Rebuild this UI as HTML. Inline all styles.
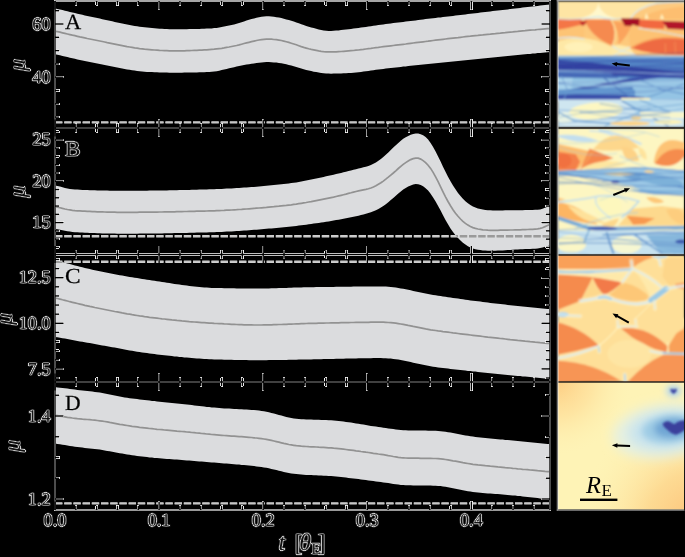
<!DOCTYPE html>
<html><head><meta charset="utf-8"><title>fig</title>
<style>
html,body{margin:0;padding:0;background:#000;}
body{width:685px;height:557px;overflow:hidden;font-family:"Liberation Serif",serif;}
svg{display:block;}
svg text{font-family:"Liberation Serif",serif;}
</style></head>
<body>
<svg width="685" height="557" viewBox="0 0 685 557">
<defs>
<filter id="fr" x="0" y="0" width="685" height="557" filterUnits="userSpaceOnUse" color-interpolation-filters="sRGB">
<feColorMatrix type="matrix" values="0 0 0 1 0  0 0 0 1 0  0 0 0 1 0  0 0 0 1 0"/>
<feComponentTransfer>
<feFuncR type="linear" slope="-1.0" intercept="1.0"/>
<feFuncG type="linear" slope="-1.0" intercept="1.0"/>
<feFuncB type="linear" slope="-1.0" intercept="1.0"/>
<feFuncA type="linear" slope="255" intercept="0"/>
</feComponentTransfer>
</filter>
<filter id="frt" x="0" y="0" width="685" height="557" filterUnits="userSpaceOnUse" color-interpolation-filters="sRGB">
<feConvolveMatrix in="SourceGraphic" order="3" kernelMatrix="0.01 0.045 0.01 0.045 0.78 0.045 0.01 0.045 0.01" divisor="1" edgeMode="none" preserveAlpha="false"/>
<feColorMatrix type="matrix" values="0 0 0 1 0  0 0 0 1 0  0 0 0 1 0  0 0 0 1 0"/>
<feComponentTransfer>
<feFuncR type="linear" slope="-1.0" intercept="1.0"/>
<feFuncG type="linear" slope="-1.0" intercept="1.0"/>
<feFuncB type="linear" slope="-1.0" intercept="1.0"/>
<feFuncA type="linear" slope="8" intercept="0"/>
</feComponentTransfer>
</filter>
<filter id="idf" x="0" y="0" width="685" height="557" filterUnits="userSpaceOnUse"><feOffset dx="0" dy="0"/></filter>
<clipPath id="bandclip"><path d="M55.0 8.5 L57.5 8.9 L60.0 9.5 L62.5 10.1 L64.9 10.7 L67.4 11.3 L69.9 11.9 L72.4 12.5 L74.9 13.1 L77.4 13.7 L79.9 14.3 L82.4 14.8 L84.8 15.4 L87.3 16.0 L89.8 16.5 L92.3 17.0 L94.8 17.6 L97.3 18.1 L99.8 18.6 L102.3 19.2 L104.7 19.7 L107.2 20.2 L109.7 20.8 L112.2 21.3 L114.7 21.9 L117.2 22.4 L119.7 23.0 L122.2 23.5 L124.6 24.0 L127.1 24.5 L129.6 25.0 L132.1 25.5 L134.6 25.9 L137.1 26.3 L139.6 26.7 L142.1 27.0 L144.5 27.3 L147.0 27.6 L149.5 27.8 L152.0 28.1 L154.5 28.3 L157.0 28.5 L159.5 28.7 L162.0 28.8 L164.4 29.0 L166.9 29.1 L169.4 29.2 L171.9 29.3 L174.4 29.3 L176.9 29.3 L179.4 29.3 L181.9 29.3 L184.3 29.2 L186.8 29.2 L189.3 29.1 L191.8 29.1 L194.3 29.0 L196.8 29.0 L199.3 28.9 L201.8 28.8 L204.2 28.7 L206.7 28.6 L209.2 28.5 L211.7 28.4 L214.2 28.1 L216.7 27.9 L219.2 27.5 L221.7 27.1 L224.1 26.6 L226.6 26.1 L229.1 25.6 L231.6 25.0 L234.1 24.4 L236.6 23.8 L239.1 23.0 L241.6 22.2 L244.0 21.4 L246.5 20.6 L249.0 19.8 L251.5 19.1 L254.0 18.5 L256.5 17.8 L259.0 17.2 L261.5 16.7 L263.9 16.4 L266.4 16.2 L268.9 16.3 L271.4 16.5 L273.9 16.8 L276.4 17.2 L278.9 17.6 L281.4 18.1 L283.8 18.7 L286.3 19.4 L288.8 20.1 L291.3 20.8 L293.8 21.6 L296.3 22.5 L298.8 23.3 L301.3 24.2 L303.7 25.1 L306.2 25.9 L308.7 26.7 L311.2 27.4 L313.7 28.1 L316.2 28.8 L318.7 29.4 L321.2 30.0 L323.6 30.4 L326.1 30.7 L328.6 30.9 L331.1 30.9 L333.6 30.8 L336.1 30.6 L338.6 30.4 L341.1 30.1 L343.5 29.8 L346.0 29.5 L348.5 29.2 L351.0 28.9 L353.5 28.6 L356.0 28.3 L358.5 27.9 L361.0 27.6 L363.4 27.2 L365.9 26.9 L368.4 26.5 L370.9 26.2 L373.4 25.8 L375.9 25.4 L378.4 25.1 L380.9 24.8 L383.3 24.4 L385.8 24.1 L388.3 23.8 L390.8 23.5 L393.3 23.1 L395.8 22.8 L398.3 22.5 L400.8 22.2 L403.2 21.9 L405.7 21.6 L408.2 21.3 L410.7 21.0 L413.2 20.7 L415.7 20.4 L418.2 20.0 L420.7 19.7 L423.1 19.4 L425.6 19.1 L428.1 18.8 L430.6 18.5 L433.1 18.2 L435.6 17.9 L438.1 17.6 L440.6 17.4 L443.0 17.1 L445.5 16.8 L448.0 16.5 L450.5 16.2 L453.0 15.9 L455.5 15.6 L458.0 15.3 L460.5 15.0 L462.9 14.7 L465.4 14.4 L467.9 14.1 L470.4 13.8 L472.9 13.5 L475.4 13.2 L477.9 12.9 L480.4 12.6 L482.8 12.3 L485.3 12.0 L487.8 11.7 L490.3 11.4 L492.8 11.1 L495.3 10.8 L497.8 10.5 L500.3 10.2 L502.7 9.9 L505.2 9.7 L507.7 9.4 L510.2 9.1 L512.7 8.8 L515.2 8.5 L517.7 8.2 L520.2 7.9 L522.6 7.6 L525.1 7.3 L527.6 7.0 L530.1 6.7 L532.6 6.5 L535.1 6.2 L537.6 5.9 L540.1 5.6 L542.5 5.3 L545.0 5.0 L547.5 4.8 L550.0 4.6 L550.0 52.1 L547.5 52.2 L545.0 52.4 L542.5 52.7 L540.1 52.9 L537.6 53.1 L535.1 53.4 L532.6 53.6 L530.1 53.9 L527.6 54.1 L525.1 54.3 L522.6 54.6 L520.2 54.8 L517.7 55.1 L515.2 55.3 L512.7 55.6 L510.2 55.8 L507.7 56.0 L505.2 56.3 L502.7 56.5 L500.3 56.8 L497.8 57.0 L495.3 57.3 L492.8 57.5 L490.3 57.8 L487.8 58.0 L485.3 58.3 L482.8 58.5 L480.4 58.8 L477.9 59.0 L475.4 59.3 L472.9 59.5 L470.4 59.8 L467.9 60.0 L465.4 60.3 L462.9 60.5 L460.5 60.8 L458.0 61.0 L455.5 61.3 L453.0 61.5 L450.5 61.8 L448.0 62.0 L445.5 62.3 L443.0 62.5 L440.6 62.8 L438.1 63.0 L435.6 63.3 L433.1 63.5 L430.6 63.8 L428.1 64.0 L425.6 64.3 L423.1 64.5 L420.7 64.8 L418.2 65.1 L415.7 65.3 L413.2 65.6 L410.7 65.8 L408.2 66.1 L405.7 66.4 L403.2 66.6 L400.8 66.9 L398.3 67.2 L395.8 67.4 L393.3 67.7 L390.8 68.0 L388.3 68.3 L385.8 68.6 L383.3 68.9 L380.9 69.2 L378.4 69.5 L375.9 69.8 L373.4 70.2 L370.9 70.5 L368.4 70.9 L365.9 71.3 L363.4 71.6 L361.0 71.9 L358.5 72.2 L356.0 72.5 L353.5 72.7 L351.0 72.9 L348.5 73.1 L346.0 73.2 L343.5 73.3 L341.1 73.4 L338.6 73.5 L336.1 73.6 L333.6 73.6 L331.1 73.7 L328.6 73.6 L326.1 73.5 L323.6 73.3 L321.2 73.0 L318.7 72.6 L316.2 72.1 L313.7 71.7 L311.2 71.1 L308.7 70.6 L306.2 70.0 L303.7 69.3 L301.3 68.6 L298.8 67.8 L296.3 67.1 L293.8 66.3 L291.3 65.6 L288.8 65.0 L286.3 64.3 L283.8 63.8 L281.4 63.3 L278.9 62.9 L276.4 62.6 L273.9 62.4 L271.4 62.2 L268.9 62.1 L266.4 62.1 L263.9 62.2 L261.5 62.4 L259.0 62.7 L256.5 63.0 L254.0 63.4 L251.5 63.8 L249.0 64.2 L246.5 64.6 L244.0 65.1 L241.6 65.6 L239.1 66.1 L236.6 66.6 L234.1 67.2 L231.6 67.7 L229.1 68.3 L226.6 68.9 L224.1 69.6 L221.7 70.1 L219.2 70.7 L216.7 71.2 L214.2 71.5 L211.7 71.8 L209.2 72.0 L206.7 72.1 L204.2 72.2 L201.8 72.3 L199.3 72.3 L196.8 72.4 L194.3 72.5 L191.8 72.5 L189.3 72.6 L186.8 72.6 L184.3 72.6 L181.9 72.7 L179.4 72.7 L176.9 72.7 L174.4 72.7 L171.9 72.7 L169.4 72.7 L166.9 72.6 L164.4 72.6 L162.0 72.5 L159.5 72.4 L157.0 72.3 L154.5 72.2 L152.0 72.1 L149.5 72.0 L147.0 71.9 L144.5 71.7 L142.1 71.5 L139.6 71.2 L137.1 70.9 L134.6 70.6 L132.1 70.2 L129.6 69.8 L127.1 69.4 L124.6 68.9 L122.2 68.5 L119.7 68.0 L117.2 67.5 L114.7 67.0 L112.2 66.5 L109.7 66.0 L107.2 65.5 L104.7 65.0 L102.3 64.5 L99.8 64.0 L97.3 63.6 L94.8 63.1 L92.3 62.6 L89.8 62.1 L87.3 61.5 L84.8 61.0 L82.4 60.5 L79.9 59.9 L77.4 59.4 L74.9 58.8 L72.4 58.2 L69.9 57.7 L67.4 57.1 L64.9 56.5 L62.5 55.9 L60.0 55.2 L57.5 54.7 L55.0 54.3 Z"/>
<path d="M55.0 185.6 L57.5 186.0 L60.0 186.6 L62.5 187.3 L64.9 187.9 L67.4 188.4 L69.9 188.9 L72.4 189.2 L74.9 189.5 L77.4 189.6 L79.9 189.7 L82.4 189.9 L84.8 190.0 L87.3 190.1 L89.8 190.2 L92.3 190.3 L94.8 190.3 L97.3 190.4 L99.8 190.5 L102.3 190.5 L104.7 190.6 L107.2 190.6 L109.7 190.7 L112.2 190.7 L114.7 190.7 L117.2 190.8 L119.7 190.8 L122.2 190.8 L124.6 190.8 L127.1 190.8 L129.6 190.8 L132.1 190.8 L134.6 190.8 L137.1 190.8 L139.6 190.7 L142.1 190.7 L144.5 190.7 L147.0 190.7 L149.5 190.6 L152.0 190.6 L154.5 190.6 L157.0 190.5 L159.5 190.5 L162.0 190.4 L164.4 190.4 L166.9 190.4 L169.4 190.3 L171.9 190.3 L174.4 190.2 L176.9 190.2 L179.4 190.1 L181.9 190.0 L184.3 190.0 L186.8 189.9 L189.3 189.9 L191.8 189.8 L194.3 189.7 L196.8 189.7 L199.3 189.6 L201.8 189.5 L204.2 189.5 L206.7 189.4 L209.2 189.3 L211.7 189.2 L214.2 189.2 L216.7 189.1 L219.2 189.0 L221.7 188.9 L224.1 188.8 L226.6 188.6 L229.1 188.5 L231.6 188.4 L234.1 188.2 L236.6 188.1 L239.1 187.9 L241.6 187.8 L244.0 187.6 L246.5 187.4 L249.0 187.2 L251.5 187.0 L254.0 186.9 L256.5 186.7 L259.0 186.4 L261.5 186.2 L263.9 186.0 L266.4 185.8 L268.9 185.6 L271.4 185.3 L273.9 185.1 L276.4 184.8 L278.9 184.6 L281.4 184.3 L283.8 184.0 L286.3 183.8 L288.8 183.5 L291.3 183.1 L293.8 182.8 L296.3 182.4 L298.8 181.9 L301.3 181.5 L303.7 181.1 L306.2 180.6 L308.7 180.1 L311.2 179.6 L313.7 179.1 L316.2 178.5 L318.7 178.0 L321.2 177.4 L323.6 176.9 L326.1 176.3 L328.6 175.8 L331.1 175.2 L333.6 174.7 L336.1 174.1 L338.6 173.5 L341.1 173.0 L343.5 172.3 L346.0 171.7 L348.5 171.1 L351.0 170.4 L353.5 169.8 L356.0 169.2 L358.5 168.5 L361.0 167.9 L363.4 167.3 L365.9 166.7 L368.4 165.9 L370.9 165.0 L373.4 163.8 L375.9 162.4 L378.4 160.8 L380.9 159.0 L383.3 157.0 L385.8 154.8 L388.3 152.4 L390.8 150.0 L393.3 147.5 L395.8 145.2 L398.3 142.9 L400.8 140.7 L403.2 138.8 L405.7 137.2 L408.2 135.9 L410.7 134.8 L413.2 133.9 L415.7 133.5 L418.2 133.6 L420.7 134.2 L423.1 135.3 L425.6 137.0 L428.1 139.5 L430.6 142.9 L433.1 147.0 L435.6 151.6 L438.1 156.5 L440.6 161.6 L443.0 166.8 L445.5 171.8 L448.0 176.7 L450.5 181.3 L453.0 185.5 L455.5 189.3 L458.0 192.9 L460.5 196.0 L462.9 198.8 L465.4 201.2 L467.9 203.3 L470.4 205.1 L472.9 206.6 L475.4 207.6 L477.9 208.4 L480.4 209.1 L482.8 209.6 L485.3 210.0 L487.8 210.2 L490.3 210.3 L492.8 210.4 L495.3 210.4 L497.8 210.4 L500.3 210.4 L502.7 210.4 L505.2 210.3 L507.7 210.3 L510.2 210.3 L512.7 210.3 L515.2 210.3 L517.7 210.2 L520.2 210.2 L522.6 210.2 L525.1 210.1 L527.6 210.1 L530.1 210.0 L532.6 209.9 L535.1 209.8 L537.6 209.7 L540.1 209.4 L542.5 208.7 L545.0 207.8 L547.5 206.8 L550.0 205.9 L550.0 245.4 L547.5 246.0 L545.0 246.8 L542.5 247.6 L540.1 248.1 L537.6 248.5 L535.1 248.7 L532.6 248.8 L530.1 248.9 L527.6 249.0 L525.1 249.1 L522.6 249.2 L520.2 249.3 L517.7 249.4 L515.2 249.6 L512.7 249.7 L510.2 249.9 L507.7 250.1 L505.2 250.2 L502.7 250.4 L500.3 250.5 L497.8 250.6 L495.3 250.7 L492.8 250.7 L490.3 250.8 L487.8 250.7 L485.3 250.6 L482.8 250.4 L480.4 250.1 L477.9 249.7 L475.4 249.2 L472.9 248.5 L470.4 247.5 L467.9 246.2 L465.4 244.6 L462.9 242.7 L460.5 240.6 L458.0 238.1 L455.5 235.2 L453.0 232.0 L450.5 228.4 L448.0 224.3 L445.5 219.9 L443.0 215.2 L440.6 210.6 L438.1 206.0 L435.6 201.5 L433.1 197.4 L430.6 193.7 L428.1 190.6 L425.6 188.2 L423.1 186.3 L420.7 185.0 L418.2 184.2 L415.7 184.1 L413.2 184.5 L410.7 185.4 L408.2 186.6 L405.7 188.0 L403.2 189.6 L400.8 191.5 L398.3 193.6 L395.8 195.8 L393.3 198.0 L390.8 200.1 L388.3 202.2 L385.8 204.2 L383.3 206.1 L380.9 207.6 L378.4 209.0 L375.9 210.2 L373.4 211.3 L370.9 212.2 L368.4 213.1 L365.9 213.8 L363.4 214.5 L361.0 215.1 L358.5 215.7 L356.0 216.3 L353.5 216.8 L351.0 217.3 L348.5 217.8 L346.0 218.3 L343.5 218.8 L341.1 219.3 L338.6 219.7 L336.1 220.1 L333.6 220.6 L331.1 221.0 L328.6 221.4 L326.1 221.8 L323.6 222.2 L321.2 222.5 L318.7 222.9 L316.2 223.3 L313.7 223.6 L311.2 224.0 L308.7 224.3 L306.2 224.7 L303.7 225.0 L301.3 225.3 L298.8 225.6 L296.3 225.9 L293.8 226.2 L291.3 226.5 L288.8 226.8 L286.3 227.0 L283.8 227.2 L281.4 227.5 L278.9 227.7 L276.4 227.9 L273.9 228.2 L271.4 228.4 L268.9 228.6 L266.4 228.8 L263.9 229.0 L261.5 229.2 L259.0 229.4 L256.5 229.7 L254.0 229.8 L251.5 230.0 L249.0 230.2 L246.5 230.4 L244.0 230.6 L241.6 230.8 L239.1 230.9 L236.6 231.1 L234.1 231.2 L231.6 231.4 L229.1 231.5 L226.6 231.6 L224.1 231.8 L221.7 231.9 L219.2 232.0 L216.7 232.1 L214.2 232.2 L211.7 232.2 L209.2 232.3 L206.7 232.4 L204.2 232.5 L201.8 232.5 L199.3 232.6 L196.8 232.6 L194.3 232.7 L191.8 232.8 L189.3 232.8 L186.8 232.9 L184.3 232.9 L181.9 233.0 L179.4 233.0 L176.9 233.1 L174.4 233.1 L171.9 233.2 L169.4 233.2 L166.9 233.3 L164.4 233.3 L162.0 233.4 L159.5 233.4 L157.0 233.5 L154.5 233.5 L152.0 233.5 L149.5 233.5 L147.0 233.6 L144.5 233.6 L142.1 233.6 L139.6 233.6 L137.1 233.7 L134.6 233.7 L132.1 233.7 L129.6 233.7 L127.1 233.7 L124.6 233.7 L122.2 233.7 L119.7 233.7 L117.2 233.7 L114.7 233.6 L112.2 233.6 L109.7 233.6 L107.2 233.5 L104.7 233.4 L102.3 233.4 L99.8 233.3 L97.3 233.2 L94.8 233.1 L92.3 233.0 L89.8 232.9 L87.3 232.8 L84.8 232.7 L82.4 232.6 L79.9 232.5 L77.4 232.3 L74.9 232.2 L72.4 231.9 L69.9 231.6 L67.4 231.3 L64.9 230.8 L62.5 230.3 L60.0 229.8 L57.5 229.3 L55.0 228.9 Z"/>
<path d="M55.0 260.3 L57.5 260.8 L60.0 261.4 L62.5 262.1 L64.9 262.8 L67.4 263.5 L69.9 264.1 L72.4 264.8 L74.9 265.4 L77.4 266.1 L79.9 266.7 L82.4 267.3 L84.8 267.9 L87.3 268.5 L89.8 269.1 L92.3 269.7 L94.8 270.2 L97.3 270.8 L99.8 271.3 L102.3 271.8 L104.7 272.3 L107.2 272.8 L109.7 273.3 L112.2 273.8 L114.7 274.2 L117.2 274.7 L119.7 275.2 L122.2 275.6 L124.6 276.0 L127.1 276.5 L129.6 276.9 L132.1 277.3 L134.6 277.7 L137.1 278.1 L139.6 278.5 L142.1 278.9 L144.5 279.3 L147.0 279.7 L149.5 280.0 L152.0 280.4 L154.5 280.8 L157.0 281.2 L159.5 281.5 L162.0 281.9 L164.4 282.3 L166.9 282.7 L169.4 283.1 L171.9 283.5 L174.4 283.9 L176.9 284.2 L179.4 284.6 L181.9 285.0 L184.3 285.3 L186.8 285.6 L189.3 286.0 L191.8 286.3 L194.3 286.5 L196.8 286.8 L199.3 287.1 L201.8 287.3 L204.2 287.5 L206.7 287.6 L209.2 287.8 L211.7 287.9 L214.2 288.0 L216.7 288.0 L219.2 288.1 L221.7 288.1 L224.1 288.2 L226.6 288.2 L229.1 288.3 L231.6 288.3 L234.1 288.3 L236.6 288.4 L239.1 288.4 L241.6 288.4 L244.0 288.4 L246.5 288.5 L249.0 288.5 L251.5 288.5 L254.0 288.5 L256.5 288.5 L259.0 288.5 L261.5 288.5 L263.9 288.5 L266.4 288.4 L268.9 288.4 L271.4 288.3 L273.9 288.3 L276.4 288.2 L278.9 288.1 L281.4 288.0 L283.8 288.0 L286.3 287.9 L288.8 287.8 L291.3 287.7 L293.8 287.6 L296.3 287.5 L298.8 287.5 L301.3 287.4 L303.7 287.3 L306.2 287.3 L308.7 287.2 L311.2 287.2 L313.7 287.2 L316.2 287.1 L318.7 287.1 L321.2 287.0 L323.6 287.0 L326.1 287.0 L328.6 286.9 L331.1 286.9 L333.6 286.9 L336.1 286.8 L338.6 286.8 L341.1 286.8 L343.5 286.8 L346.0 286.7 L348.5 286.7 L351.0 286.7 L353.5 286.6 L356.0 286.6 L358.5 286.6 L361.0 286.6 L363.4 286.6 L365.9 286.6 L368.4 286.5 L370.9 286.5 L373.4 286.5 L375.9 286.5 L378.4 286.5 L380.9 286.5 L383.3 286.6 L385.8 286.6 L388.3 286.8 L390.8 287.0 L393.3 287.3 L395.8 287.6 L398.3 288.0 L400.8 288.4 L403.2 288.8 L405.7 289.3 L408.2 289.8 L410.7 290.3 L413.2 290.9 L415.7 291.4 L418.2 292.0 L420.7 292.5 L423.1 293.0 L425.6 293.5 L428.1 294.0 L430.6 294.5 L433.1 294.9 L435.6 295.3 L438.1 295.7 L440.6 296.1 L443.0 296.5 L445.5 296.8 L448.0 297.2 L450.5 297.6 L453.0 297.9 L455.5 298.3 L458.0 298.6 L460.5 299.0 L462.9 299.3 L465.4 299.7 L467.9 300.0 L470.4 300.4 L472.9 300.7 L475.4 301.0 L477.9 301.3 L480.4 301.6 L482.8 302.0 L485.3 302.3 L487.8 302.6 L490.3 302.9 L492.8 303.2 L495.3 303.5 L497.8 303.7 L500.3 304.0 L502.7 304.3 L505.2 304.6 L507.7 304.9 L510.2 305.2 L512.7 305.4 L515.2 305.7 L517.7 306.0 L520.2 306.2 L522.6 306.5 L525.1 306.8 L527.6 307.0 L530.1 307.3 L532.6 307.5 L535.1 307.8 L537.6 308.0 L540.1 308.2 L542.5 308.5 L545.0 308.7 L547.5 308.9 L550.0 309.0 L550.0 378.7 L547.5 378.6 L545.0 378.4 L542.5 378.2 L540.1 378.0 L537.6 377.8 L535.1 377.5 L532.6 377.3 L530.1 377.1 L527.6 376.8 L525.1 376.6 L522.6 376.4 L520.2 376.1 L517.7 375.9 L515.2 375.7 L512.7 375.4 L510.2 375.2 L507.7 374.9 L505.2 374.7 L502.7 374.4 L500.3 374.2 L497.8 373.9 L495.3 373.7 L492.8 373.4 L490.3 373.2 L487.8 372.9 L485.3 372.7 L482.8 372.4 L480.4 372.2 L477.9 371.9 L475.4 371.6 L472.9 371.4 L470.4 371.1 L467.9 370.9 L465.4 370.6 L462.9 370.3 L460.5 370.0 L458.0 369.8 L455.5 369.5 L453.0 369.2 L450.5 368.9 L448.0 368.6 L445.5 368.3 L443.0 368.0 L440.6 367.7 L438.1 367.4 L435.6 367.0 L433.1 366.7 L430.6 366.3 L428.1 365.8 L425.6 365.3 L423.1 364.8 L420.7 364.3 L418.2 363.8 L415.7 363.2 L413.2 362.7 L410.7 362.1 L408.2 361.6 L405.7 361.0 L403.2 360.5 L400.8 360.1 L398.3 359.6 L395.8 359.3 L393.3 358.9 L390.8 358.6 L388.3 358.4 L385.8 358.2 L383.3 358.2 L380.9 358.1 L378.4 358.1 L375.9 358.1 L373.4 358.1 L370.9 358.2 L368.4 358.2 L365.9 358.2 L363.4 358.3 L361.0 358.3 L358.5 358.3 L356.0 358.4 L353.5 358.4 L351.0 358.5 L348.5 358.6 L346.0 358.6 L343.5 358.7 L341.1 358.7 L338.6 358.8 L336.1 358.8 L333.6 358.9 L331.1 359.0 L328.6 359.0 L326.1 359.1 L323.6 359.1 L321.2 359.2 L318.7 359.2 L316.2 359.3 L313.7 359.3 L311.2 359.4 L308.7 359.4 L306.2 359.5 L303.7 359.5 L301.3 359.6 L298.8 359.6 L296.3 359.7 L293.8 359.7 L291.3 359.8 L288.8 359.8 L286.3 359.9 L283.8 359.9 L281.4 360.0 L278.9 360.0 L276.4 360.0 L273.9 360.1 L271.4 360.1 L268.9 360.1 L266.4 360.2 L263.9 360.2 L261.5 360.2 L259.0 360.2 L256.5 360.2 L254.0 360.2 L251.5 360.2 L249.0 360.2 L246.5 360.1 L244.0 360.1 L241.6 360.1 L239.1 360.0 L236.6 360.0 L234.1 359.9 L231.6 359.8 L229.1 359.8 L226.6 359.7 L224.1 359.7 L221.7 359.6 L219.2 359.5 L216.7 359.4 L214.2 359.4 L211.7 359.3 L209.2 359.2 L206.7 359.1 L204.2 358.9 L201.8 358.8 L199.3 358.6 L196.8 358.4 L194.3 358.2 L191.8 358.0 L189.3 357.8 L186.8 357.6 L184.3 357.4 L181.9 357.1 L179.4 356.9 L176.9 356.6 L174.4 356.4 L171.9 356.1 L169.4 355.8 L166.9 355.5 L164.4 355.2 L162.0 354.9 L159.5 354.7 L157.0 354.4 L154.5 354.1 L152.0 353.8 L149.5 353.5 L147.0 353.1 L144.5 352.8 L142.1 352.4 L139.6 352.1 L137.1 351.7 L134.6 351.3 L132.1 350.8 L129.6 350.4 L127.1 350.0 L124.6 349.5 L122.2 349.0 L119.7 348.6 L117.2 348.1 L114.7 347.6 L112.2 347.2 L109.7 346.7 L107.2 346.3 L104.7 345.8 L102.3 345.4 L99.8 344.9 L97.3 344.5 L94.8 344.0 L92.3 343.6 L89.8 343.1 L87.3 342.7 L84.8 342.3 L82.4 341.8 L79.9 341.4 L77.4 340.9 L74.9 340.5 L72.4 340.0 L69.9 339.5 L67.4 339.1 L64.9 338.6 L62.5 338.2 L60.0 337.7 L57.5 337.3 L55.0 337.0 Z"/>
<path d="M55.0 387.1 L57.5 387.4 L60.0 387.7 L62.5 388.0 L64.9 388.3 L67.4 388.6 L69.9 389.0 L72.4 389.3 L74.9 389.6 L77.4 389.9 L79.9 390.2 L82.4 390.4 L84.8 390.7 L87.3 391.0 L89.8 391.3 L92.3 391.6 L94.8 391.9 L97.3 392.2 L99.8 392.6 L102.3 392.9 L104.7 393.4 L107.2 393.9 L109.7 394.4 L112.2 394.9 L114.7 395.5 L117.2 396.0 L119.7 396.5 L122.2 397.0 L124.6 397.4 L127.1 397.8 L129.6 398.2 L132.1 398.5 L134.6 398.8 L137.1 399.1 L139.6 399.4 L142.1 399.7 L144.5 400.0 L147.0 400.3 L149.5 400.6 L152.0 400.9 L154.5 401.1 L157.0 401.4 L159.5 401.7 L162.0 401.9 L164.4 402.2 L166.9 402.5 L169.4 402.7 L171.9 403.0 L174.4 403.2 L176.9 403.5 L179.4 403.8 L181.9 404.0 L184.3 404.3 L186.8 404.5 L189.3 404.8 L191.8 405.1 L194.3 405.4 L196.8 405.7 L199.3 406.0 L201.8 406.3 L204.2 406.6 L206.7 406.9 L209.2 407.1 L211.7 407.4 L214.2 407.6 L216.7 407.8 L219.2 408.0 L221.7 408.2 L224.1 408.4 L226.6 408.5 L229.1 408.6 L231.6 408.8 L234.1 408.9 L236.6 409.0 L239.1 409.2 L241.6 409.3 L244.0 409.5 L246.5 409.6 L249.0 409.8 L251.5 409.9 L254.0 410.1 L256.5 410.3 L259.0 410.6 L261.5 410.9 L263.9 411.3 L266.4 411.7 L268.9 412.3 L271.4 412.9 L273.9 413.5 L276.4 414.2 L278.9 414.9 L281.4 415.6 L283.8 416.3 L286.3 417.0 L288.8 417.5 L291.3 418.0 L293.8 418.5 L296.3 418.8 L298.8 419.0 L301.3 419.2 L303.7 419.3 L306.2 419.4 L308.7 419.5 L311.2 419.6 L313.7 419.7 L316.2 419.7 L318.7 419.8 L321.2 419.9 L323.6 420.0 L326.1 420.1 L328.6 420.2 L331.1 420.3 L333.6 420.5 L336.1 420.7 L338.6 421.0 L341.1 421.3 L343.5 421.6 L346.0 421.9 L348.5 422.2 L351.0 422.6 L353.5 423.0 L356.0 423.4 L358.5 423.8 L361.0 424.2 L363.4 424.6 L365.9 425.0 L368.4 425.5 L370.9 425.9 L373.4 426.3 L375.9 426.6 L378.4 427.0 L380.9 427.3 L383.3 427.7 L385.8 428.0 L388.3 428.4 L390.8 428.8 L393.3 429.1 L395.8 429.5 L398.3 429.8 L400.8 430.0 L403.2 430.2 L405.7 430.3 L408.2 430.4 L410.7 430.4 L413.2 430.5 L415.7 430.5 L418.2 430.5 L420.7 430.6 L423.1 430.6 L425.6 430.6 L428.1 430.7 L430.6 430.7 L433.1 430.8 L435.6 430.8 L438.1 431.0 L440.6 431.2 L443.0 431.5 L445.5 431.8 L448.0 432.2 L450.5 432.6 L453.0 433.1 L455.5 433.5 L458.0 434.0 L460.5 434.5 L462.9 435.0 L465.4 435.4 L467.9 435.8 L470.4 436.2 L472.9 436.6 L475.4 436.9 L477.9 437.2 L480.4 437.4 L482.8 437.7 L485.3 438.0 L487.8 438.2 L490.3 438.4 L492.8 438.7 L495.3 438.9 L497.8 439.2 L500.3 439.4 L502.7 439.6 L505.2 439.9 L507.7 440.1 L510.2 440.3 L512.7 440.6 L515.2 440.8 L517.7 441.1 L520.2 441.3 L522.6 441.6 L525.1 441.8 L527.6 442.1 L530.1 442.3 L532.6 442.6 L535.1 442.8 L537.6 443.0 L540.1 443.3 L542.5 443.5 L545.0 443.8 L547.5 444.0 L550.0 444.1 L550.0 499.4 L547.5 499.2 L545.0 498.9 L542.5 498.7 L540.1 498.4 L537.6 498.1 L535.1 497.8 L532.6 497.5 L530.1 497.2 L527.6 496.9 L525.1 496.7 L522.6 496.4 L520.2 496.1 L517.7 495.9 L515.2 495.6 L512.7 495.4 L510.2 495.2 L507.7 494.9 L505.2 494.7 L502.7 494.5 L500.3 494.3 L497.8 494.1 L495.3 493.9 L492.8 493.7 L490.3 493.6 L487.8 493.4 L485.3 493.2 L482.8 493.0 L480.4 492.7 L477.9 492.5 L475.4 492.2 L472.9 492.0 L470.4 491.6 L467.9 491.2 L465.4 490.8 L462.9 490.3 L460.5 489.8 L458.0 489.3 L455.5 488.8 L453.0 488.2 L450.5 487.7 L448.0 487.2 L445.5 486.8 L443.0 486.4 L440.6 486.1 L438.1 485.9 L435.6 485.8 L433.1 485.7 L430.6 485.6 L428.1 485.6 L425.6 485.5 L423.1 485.5 L420.7 485.5 L418.2 485.4 L415.7 485.4 L413.2 485.4 L410.7 485.3 L408.2 485.3 L405.7 485.2 L403.2 485.1 L400.8 484.9 L398.3 484.6 L395.8 484.3 L393.3 483.9 L390.8 483.5 L388.3 483.1 L385.8 482.8 L383.3 482.4 L380.9 482.1 L378.4 481.7 L375.9 481.4 L373.4 481.1 L370.9 480.8 L368.4 480.4 L365.9 480.1 L363.4 479.8 L361.0 479.4 L358.5 479.1 L356.0 478.8 L353.5 478.5 L351.0 478.2 L348.5 477.9 L346.0 477.6 L343.5 477.3 L341.1 477.0 L338.6 476.8 L336.1 476.6 L333.6 476.3 L331.1 476.1 L328.6 476.0 L326.1 475.8 L323.6 475.7 L321.2 475.6 L318.7 475.4 L316.2 475.3 L313.7 475.2 L311.2 475.1 L308.7 475.0 L306.2 474.9 L303.7 474.7 L301.3 474.5 L298.8 474.3 L296.3 474.1 L293.8 473.8 L291.3 473.4 L288.8 472.9 L286.3 472.4 L283.8 471.9 L281.4 471.3 L278.9 470.7 L276.4 470.1 L273.9 469.5 L271.4 468.9 L268.9 468.3 L266.4 467.8 L263.9 467.4 L261.5 467.0 L259.0 466.7 L256.5 466.4 L254.0 466.1 L251.5 465.8 L249.0 465.6 L246.5 465.3 L244.0 465.1 L241.6 464.9 L239.1 464.6 L236.6 464.4 L234.1 464.2 L231.6 464.0 L229.1 463.8 L226.6 463.6 L224.1 463.4 L221.7 463.2 L219.2 463.0 L216.7 462.8 L214.2 462.6 L211.7 462.4 L209.2 462.2 L206.7 462.0 L204.2 461.8 L201.8 461.6 L199.3 461.4 L196.8 461.2 L194.3 461.0 L191.8 460.8 L189.3 460.6 L186.8 460.4 L184.3 460.2 L181.9 460.0 L179.4 459.8 L176.9 459.6 L174.4 459.5 L171.9 459.3 L169.4 459.1 L166.9 458.9 L164.4 458.7 L162.0 458.5 L159.5 458.3 L157.0 458.1 L154.5 457.9 L152.0 457.6 L149.5 457.4 L147.0 457.1 L144.5 456.8 L142.1 456.5 L139.6 456.2 L137.1 455.9 L134.6 455.5 L132.1 455.2 L129.6 454.8 L127.1 454.4 L124.6 454.0 L122.2 453.6 L119.7 453.2 L117.2 452.7 L114.7 452.3 L112.2 451.8 L109.7 451.3 L107.2 450.9 L104.7 450.4 L102.3 450.0 L99.8 449.6 L97.3 449.3 L94.8 449.0 L92.3 448.7 L89.8 448.4 L87.3 448.2 L84.8 447.9 L82.4 447.6 L79.9 447.3 L77.4 447.0 L74.9 446.7 L72.4 446.3 L69.9 445.9 L67.4 445.6 L64.9 445.1 L62.5 444.7 L60.0 444.3 L57.5 443.9 L55.0 443.6 Z"/></clipPath>

<filter id="ib" x="540" y="-10" width="160" height="540" filterUnits="userSpaceOnUse"><feGaussianBlur stdDeviation="0.9"/></filter>
<filter id="ibD1" x="540" y="370" width="160" height="160" filterUnits="userSpaceOnUse"><feGaussianBlur stdDeviation="6"/></filter>
<filter id="ibD2" x="540" y="370" width="160" height="160" filterUnits="userSpaceOnUse"><feGaussianBlur stdDeviation="3"/></filter>
<filter id="ibD3" x="540" y="370" width="160" height="160" filterUnits="userSpaceOnUse"><feGaussianBlur stdDeviation="1.2"/></filter>
<radialGradient id="gD1" gradientUnits="userSpaceOnUse" cx="556" cy="380" r="75">
<stop offset="0" stop-color="#fdcb80" stop-opacity="1"/><stop offset="0.5" stop-color="#fedc95" stop-opacity="0.6"/><stop offset="1" stop-color="#fef0b0" stop-opacity="0"/>
</radialGradient>
<radialGradient id="gD2" gradientUnits="userSpaceOnUse" cx="700" cy="525" r="120">
<stop offset="0" stop-color="#fdbe74" stop-opacity="1"/><stop offset="0.45" stop-color="#fdd48a" stop-opacity="0.8"/><stop offset="1" stop-color="#fef0b0" stop-opacity="0"/>
</radialGradient>
<clipPath id="cA"><rect x="557.8" y="1.2" width="126.5" height="126.7"/></clipPath>
<clipPath id="cB"><rect x="557.8" y="127.9" width="126.5" height="127.19999999999999"/></clipPath>
<clipPath id="cC"><rect x="557.8" y="255.1" width="126.5" height="126.9"/></clipPath>
<clipPath id="cD"><rect x="557.8" y="382.0" width="126.5" height="127.5"/></clipPath>

</defs>
<rect width="685" height="557" fill="#000"/>
<g id="bands">
<path d="M55.0 8.5 L57.5 8.9 L60.0 9.5 L62.5 10.1 L64.9 10.7 L67.4 11.3 L69.9 11.9 L72.4 12.5 L74.9 13.1 L77.4 13.7 L79.9 14.3 L82.4 14.8 L84.8 15.4 L87.3 16.0 L89.8 16.5 L92.3 17.0 L94.8 17.6 L97.3 18.1 L99.8 18.6 L102.3 19.2 L104.7 19.7 L107.2 20.2 L109.7 20.8 L112.2 21.3 L114.7 21.9 L117.2 22.4 L119.7 23.0 L122.2 23.5 L124.6 24.0 L127.1 24.5 L129.6 25.0 L132.1 25.5 L134.6 25.9 L137.1 26.3 L139.6 26.7 L142.1 27.0 L144.5 27.3 L147.0 27.6 L149.5 27.8 L152.0 28.1 L154.5 28.3 L157.0 28.5 L159.5 28.7 L162.0 28.8 L164.4 29.0 L166.9 29.1 L169.4 29.2 L171.9 29.3 L174.4 29.3 L176.9 29.3 L179.4 29.3 L181.9 29.3 L184.3 29.2 L186.8 29.2 L189.3 29.1 L191.8 29.1 L194.3 29.0 L196.8 29.0 L199.3 28.9 L201.8 28.8 L204.2 28.7 L206.7 28.6 L209.2 28.5 L211.7 28.4 L214.2 28.1 L216.7 27.9 L219.2 27.5 L221.7 27.1 L224.1 26.6 L226.6 26.1 L229.1 25.6 L231.6 25.0 L234.1 24.4 L236.6 23.8 L239.1 23.0 L241.6 22.2 L244.0 21.4 L246.5 20.6 L249.0 19.8 L251.5 19.1 L254.0 18.5 L256.5 17.8 L259.0 17.2 L261.5 16.7 L263.9 16.4 L266.4 16.2 L268.9 16.3 L271.4 16.5 L273.9 16.8 L276.4 17.2 L278.9 17.6 L281.4 18.1 L283.8 18.7 L286.3 19.4 L288.8 20.1 L291.3 20.8 L293.8 21.6 L296.3 22.5 L298.8 23.3 L301.3 24.2 L303.7 25.1 L306.2 25.9 L308.7 26.7 L311.2 27.4 L313.7 28.1 L316.2 28.8 L318.7 29.4 L321.2 30.0 L323.6 30.4 L326.1 30.7 L328.6 30.9 L331.1 30.9 L333.6 30.8 L336.1 30.6 L338.6 30.4 L341.1 30.1 L343.5 29.8 L346.0 29.5 L348.5 29.2 L351.0 28.9 L353.5 28.6 L356.0 28.3 L358.5 27.9 L361.0 27.6 L363.4 27.2 L365.9 26.9 L368.4 26.5 L370.9 26.2 L373.4 25.8 L375.9 25.4 L378.4 25.1 L380.9 24.8 L383.3 24.4 L385.8 24.1 L388.3 23.8 L390.8 23.5 L393.3 23.1 L395.8 22.8 L398.3 22.5 L400.8 22.2 L403.2 21.9 L405.7 21.6 L408.2 21.3 L410.7 21.0 L413.2 20.7 L415.7 20.4 L418.2 20.0 L420.7 19.7 L423.1 19.4 L425.6 19.1 L428.1 18.8 L430.6 18.5 L433.1 18.2 L435.6 17.9 L438.1 17.6 L440.6 17.4 L443.0 17.1 L445.5 16.8 L448.0 16.5 L450.5 16.2 L453.0 15.9 L455.5 15.6 L458.0 15.3 L460.5 15.0 L462.9 14.7 L465.4 14.4 L467.9 14.1 L470.4 13.8 L472.9 13.5 L475.4 13.2 L477.9 12.9 L480.4 12.6 L482.8 12.3 L485.3 12.0 L487.8 11.7 L490.3 11.4 L492.8 11.1 L495.3 10.8 L497.8 10.5 L500.3 10.2 L502.7 9.9 L505.2 9.7 L507.7 9.4 L510.2 9.1 L512.7 8.8 L515.2 8.5 L517.7 8.2 L520.2 7.9 L522.6 7.6 L525.1 7.3 L527.6 7.0 L530.1 6.7 L532.6 6.5 L535.1 6.2 L537.6 5.9 L540.1 5.6 L542.5 5.3 L545.0 5.0 L547.5 4.8 L550.0 4.6 L550.0 52.1 L547.5 52.2 L545.0 52.4 L542.5 52.7 L540.1 52.9 L537.6 53.1 L535.1 53.4 L532.6 53.6 L530.1 53.9 L527.6 54.1 L525.1 54.3 L522.6 54.6 L520.2 54.8 L517.7 55.1 L515.2 55.3 L512.7 55.6 L510.2 55.8 L507.7 56.0 L505.2 56.3 L502.7 56.5 L500.3 56.8 L497.8 57.0 L495.3 57.3 L492.8 57.5 L490.3 57.8 L487.8 58.0 L485.3 58.3 L482.8 58.5 L480.4 58.8 L477.9 59.0 L475.4 59.3 L472.9 59.5 L470.4 59.8 L467.9 60.0 L465.4 60.3 L462.9 60.5 L460.5 60.8 L458.0 61.0 L455.5 61.3 L453.0 61.5 L450.5 61.8 L448.0 62.0 L445.5 62.3 L443.0 62.5 L440.6 62.8 L438.1 63.0 L435.6 63.3 L433.1 63.5 L430.6 63.8 L428.1 64.0 L425.6 64.3 L423.1 64.5 L420.7 64.8 L418.2 65.1 L415.7 65.3 L413.2 65.6 L410.7 65.8 L408.2 66.1 L405.7 66.4 L403.2 66.6 L400.8 66.9 L398.3 67.2 L395.8 67.4 L393.3 67.7 L390.8 68.0 L388.3 68.3 L385.8 68.6 L383.3 68.9 L380.9 69.2 L378.4 69.5 L375.9 69.8 L373.4 70.2 L370.9 70.5 L368.4 70.9 L365.9 71.3 L363.4 71.6 L361.0 71.9 L358.5 72.2 L356.0 72.5 L353.5 72.7 L351.0 72.9 L348.5 73.1 L346.0 73.2 L343.5 73.3 L341.1 73.4 L338.6 73.5 L336.1 73.6 L333.6 73.6 L331.1 73.7 L328.6 73.6 L326.1 73.5 L323.6 73.3 L321.2 73.0 L318.7 72.6 L316.2 72.1 L313.7 71.7 L311.2 71.1 L308.7 70.6 L306.2 70.0 L303.7 69.3 L301.3 68.6 L298.8 67.8 L296.3 67.1 L293.8 66.3 L291.3 65.6 L288.8 65.0 L286.3 64.3 L283.8 63.8 L281.4 63.3 L278.9 62.9 L276.4 62.6 L273.9 62.4 L271.4 62.2 L268.9 62.1 L266.4 62.1 L263.9 62.2 L261.5 62.4 L259.0 62.7 L256.5 63.0 L254.0 63.4 L251.5 63.8 L249.0 64.2 L246.5 64.6 L244.0 65.1 L241.6 65.6 L239.1 66.1 L236.6 66.6 L234.1 67.2 L231.6 67.7 L229.1 68.3 L226.6 68.9 L224.1 69.6 L221.7 70.1 L219.2 70.7 L216.7 71.2 L214.2 71.5 L211.7 71.8 L209.2 72.0 L206.7 72.1 L204.2 72.2 L201.8 72.3 L199.3 72.3 L196.8 72.4 L194.3 72.5 L191.8 72.5 L189.3 72.6 L186.8 72.6 L184.3 72.6 L181.9 72.7 L179.4 72.7 L176.9 72.7 L174.4 72.7 L171.9 72.7 L169.4 72.7 L166.9 72.6 L164.4 72.6 L162.0 72.5 L159.5 72.4 L157.0 72.3 L154.5 72.2 L152.0 72.1 L149.5 72.0 L147.0 71.9 L144.5 71.7 L142.1 71.5 L139.6 71.2 L137.1 70.9 L134.6 70.6 L132.1 70.2 L129.6 69.8 L127.1 69.4 L124.6 68.9 L122.2 68.5 L119.7 68.0 L117.2 67.5 L114.7 67.0 L112.2 66.5 L109.7 66.0 L107.2 65.5 L104.7 65.0 L102.3 64.5 L99.8 64.0 L97.3 63.6 L94.8 63.1 L92.3 62.6 L89.8 62.1 L87.3 61.5 L84.8 61.0 L82.4 60.5 L79.9 59.9 L77.4 59.4 L74.9 58.8 L72.4 58.2 L69.9 57.7 L67.4 57.1 L64.9 56.5 L62.5 55.9 L60.0 55.2 L57.5 54.7 L55.0 54.3 Z" fill="#dbdcde"/>
<path d="M55.0 185.6 L57.5 186.0 L60.0 186.6 L62.5 187.3 L64.9 187.9 L67.4 188.4 L69.9 188.9 L72.4 189.2 L74.9 189.5 L77.4 189.6 L79.9 189.7 L82.4 189.9 L84.8 190.0 L87.3 190.1 L89.8 190.2 L92.3 190.3 L94.8 190.3 L97.3 190.4 L99.8 190.5 L102.3 190.5 L104.7 190.6 L107.2 190.6 L109.7 190.7 L112.2 190.7 L114.7 190.7 L117.2 190.8 L119.7 190.8 L122.2 190.8 L124.6 190.8 L127.1 190.8 L129.6 190.8 L132.1 190.8 L134.6 190.8 L137.1 190.8 L139.6 190.7 L142.1 190.7 L144.5 190.7 L147.0 190.7 L149.5 190.6 L152.0 190.6 L154.5 190.6 L157.0 190.5 L159.5 190.5 L162.0 190.4 L164.4 190.4 L166.9 190.4 L169.4 190.3 L171.9 190.3 L174.4 190.2 L176.9 190.2 L179.4 190.1 L181.9 190.0 L184.3 190.0 L186.8 189.9 L189.3 189.9 L191.8 189.8 L194.3 189.7 L196.8 189.7 L199.3 189.6 L201.8 189.5 L204.2 189.5 L206.7 189.4 L209.2 189.3 L211.7 189.2 L214.2 189.2 L216.7 189.1 L219.2 189.0 L221.7 188.9 L224.1 188.8 L226.6 188.6 L229.1 188.5 L231.6 188.4 L234.1 188.2 L236.6 188.1 L239.1 187.9 L241.6 187.8 L244.0 187.6 L246.5 187.4 L249.0 187.2 L251.5 187.0 L254.0 186.9 L256.5 186.7 L259.0 186.4 L261.5 186.2 L263.9 186.0 L266.4 185.8 L268.9 185.6 L271.4 185.3 L273.9 185.1 L276.4 184.8 L278.9 184.6 L281.4 184.3 L283.8 184.0 L286.3 183.8 L288.8 183.5 L291.3 183.1 L293.8 182.8 L296.3 182.4 L298.8 181.9 L301.3 181.5 L303.7 181.1 L306.2 180.6 L308.7 180.1 L311.2 179.6 L313.7 179.1 L316.2 178.5 L318.7 178.0 L321.2 177.4 L323.6 176.9 L326.1 176.3 L328.6 175.8 L331.1 175.2 L333.6 174.7 L336.1 174.1 L338.6 173.5 L341.1 173.0 L343.5 172.3 L346.0 171.7 L348.5 171.1 L351.0 170.4 L353.5 169.8 L356.0 169.2 L358.5 168.5 L361.0 167.9 L363.4 167.3 L365.9 166.7 L368.4 165.9 L370.9 165.0 L373.4 163.8 L375.9 162.4 L378.4 160.8 L380.9 159.0 L383.3 157.0 L385.8 154.8 L388.3 152.4 L390.8 150.0 L393.3 147.5 L395.8 145.2 L398.3 142.9 L400.8 140.7 L403.2 138.8 L405.7 137.2 L408.2 135.9 L410.7 134.8 L413.2 133.9 L415.7 133.5 L418.2 133.6 L420.7 134.2 L423.1 135.3 L425.6 137.0 L428.1 139.5 L430.6 142.9 L433.1 147.0 L435.6 151.6 L438.1 156.5 L440.6 161.6 L443.0 166.8 L445.5 171.8 L448.0 176.7 L450.5 181.3 L453.0 185.5 L455.5 189.3 L458.0 192.9 L460.5 196.0 L462.9 198.8 L465.4 201.2 L467.9 203.3 L470.4 205.1 L472.9 206.6 L475.4 207.6 L477.9 208.4 L480.4 209.1 L482.8 209.6 L485.3 210.0 L487.8 210.2 L490.3 210.3 L492.8 210.4 L495.3 210.4 L497.8 210.4 L500.3 210.4 L502.7 210.4 L505.2 210.3 L507.7 210.3 L510.2 210.3 L512.7 210.3 L515.2 210.3 L517.7 210.2 L520.2 210.2 L522.6 210.2 L525.1 210.1 L527.6 210.1 L530.1 210.0 L532.6 209.9 L535.1 209.8 L537.6 209.7 L540.1 209.4 L542.5 208.7 L545.0 207.8 L547.5 206.8 L550.0 205.9 L550.0 245.4 L547.5 246.0 L545.0 246.8 L542.5 247.6 L540.1 248.1 L537.6 248.5 L535.1 248.7 L532.6 248.8 L530.1 248.9 L527.6 249.0 L525.1 249.1 L522.6 249.2 L520.2 249.3 L517.7 249.4 L515.2 249.6 L512.7 249.7 L510.2 249.9 L507.7 250.1 L505.2 250.2 L502.7 250.4 L500.3 250.5 L497.8 250.6 L495.3 250.7 L492.8 250.7 L490.3 250.8 L487.8 250.7 L485.3 250.6 L482.8 250.4 L480.4 250.1 L477.9 249.7 L475.4 249.2 L472.9 248.5 L470.4 247.5 L467.9 246.2 L465.4 244.6 L462.9 242.7 L460.5 240.6 L458.0 238.1 L455.5 235.2 L453.0 232.0 L450.5 228.4 L448.0 224.3 L445.5 219.9 L443.0 215.2 L440.6 210.6 L438.1 206.0 L435.6 201.5 L433.1 197.4 L430.6 193.7 L428.1 190.6 L425.6 188.2 L423.1 186.3 L420.7 185.0 L418.2 184.2 L415.7 184.1 L413.2 184.5 L410.7 185.4 L408.2 186.6 L405.7 188.0 L403.2 189.6 L400.8 191.5 L398.3 193.6 L395.8 195.8 L393.3 198.0 L390.8 200.1 L388.3 202.2 L385.8 204.2 L383.3 206.1 L380.9 207.6 L378.4 209.0 L375.9 210.2 L373.4 211.3 L370.9 212.2 L368.4 213.1 L365.9 213.8 L363.4 214.5 L361.0 215.1 L358.5 215.7 L356.0 216.3 L353.5 216.8 L351.0 217.3 L348.5 217.8 L346.0 218.3 L343.5 218.8 L341.1 219.3 L338.6 219.7 L336.1 220.1 L333.6 220.6 L331.1 221.0 L328.6 221.4 L326.1 221.8 L323.6 222.2 L321.2 222.5 L318.7 222.9 L316.2 223.3 L313.7 223.6 L311.2 224.0 L308.7 224.3 L306.2 224.7 L303.7 225.0 L301.3 225.3 L298.8 225.6 L296.3 225.9 L293.8 226.2 L291.3 226.5 L288.8 226.8 L286.3 227.0 L283.8 227.2 L281.4 227.5 L278.9 227.7 L276.4 227.9 L273.9 228.2 L271.4 228.4 L268.9 228.6 L266.4 228.8 L263.9 229.0 L261.5 229.2 L259.0 229.4 L256.5 229.7 L254.0 229.8 L251.5 230.0 L249.0 230.2 L246.5 230.4 L244.0 230.6 L241.6 230.8 L239.1 230.9 L236.6 231.1 L234.1 231.2 L231.6 231.4 L229.1 231.5 L226.6 231.6 L224.1 231.8 L221.7 231.9 L219.2 232.0 L216.7 232.1 L214.2 232.2 L211.7 232.2 L209.2 232.3 L206.7 232.4 L204.2 232.5 L201.8 232.5 L199.3 232.6 L196.8 232.6 L194.3 232.7 L191.8 232.8 L189.3 232.8 L186.8 232.9 L184.3 232.9 L181.9 233.0 L179.4 233.0 L176.9 233.1 L174.4 233.1 L171.9 233.2 L169.4 233.2 L166.9 233.3 L164.4 233.3 L162.0 233.4 L159.5 233.4 L157.0 233.5 L154.5 233.5 L152.0 233.5 L149.5 233.5 L147.0 233.6 L144.5 233.6 L142.1 233.6 L139.6 233.6 L137.1 233.7 L134.6 233.7 L132.1 233.7 L129.6 233.7 L127.1 233.7 L124.6 233.7 L122.2 233.7 L119.7 233.7 L117.2 233.7 L114.7 233.6 L112.2 233.6 L109.7 233.6 L107.2 233.5 L104.7 233.4 L102.3 233.4 L99.8 233.3 L97.3 233.2 L94.8 233.1 L92.3 233.0 L89.8 232.9 L87.3 232.8 L84.8 232.7 L82.4 232.6 L79.9 232.5 L77.4 232.3 L74.9 232.2 L72.4 231.9 L69.9 231.6 L67.4 231.3 L64.9 230.8 L62.5 230.3 L60.0 229.8 L57.5 229.3 L55.0 228.9 Z" fill="#dbdcde"/>
<path d="M55.0 260.3 L57.5 260.8 L60.0 261.4 L62.5 262.1 L64.9 262.8 L67.4 263.5 L69.9 264.1 L72.4 264.8 L74.9 265.4 L77.4 266.1 L79.9 266.7 L82.4 267.3 L84.8 267.9 L87.3 268.5 L89.8 269.1 L92.3 269.7 L94.8 270.2 L97.3 270.8 L99.8 271.3 L102.3 271.8 L104.7 272.3 L107.2 272.8 L109.7 273.3 L112.2 273.8 L114.7 274.2 L117.2 274.7 L119.7 275.2 L122.2 275.6 L124.6 276.0 L127.1 276.5 L129.6 276.9 L132.1 277.3 L134.6 277.7 L137.1 278.1 L139.6 278.5 L142.1 278.9 L144.5 279.3 L147.0 279.7 L149.5 280.0 L152.0 280.4 L154.5 280.8 L157.0 281.2 L159.5 281.5 L162.0 281.9 L164.4 282.3 L166.9 282.7 L169.4 283.1 L171.9 283.5 L174.4 283.9 L176.9 284.2 L179.4 284.6 L181.9 285.0 L184.3 285.3 L186.8 285.6 L189.3 286.0 L191.8 286.3 L194.3 286.5 L196.8 286.8 L199.3 287.1 L201.8 287.3 L204.2 287.5 L206.7 287.6 L209.2 287.8 L211.7 287.9 L214.2 288.0 L216.7 288.0 L219.2 288.1 L221.7 288.1 L224.1 288.2 L226.6 288.2 L229.1 288.3 L231.6 288.3 L234.1 288.3 L236.6 288.4 L239.1 288.4 L241.6 288.4 L244.0 288.4 L246.5 288.5 L249.0 288.5 L251.5 288.5 L254.0 288.5 L256.5 288.5 L259.0 288.5 L261.5 288.5 L263.9 288.5 L266.4 288.4 L268.9 288.4 L271.4 288.3 L273.9 288.3 L276.4 288.2 L278.9 288.1 L281.4 288.0 L283.8 288.0 L286.3 287.9 L288.8 287.8 L291.3 287.7 L293.8 287.6 L296.3 287.5 L298.8 287.5 L301.3 287.4 L303.7 287.3 L306.2 287.3 L308.7 287.2 L311.2 287.2 L313.7 287.2 L316.2 287.1 L318.7 287.1 L321.2 287.0 L323.6 287.0 L326.1 287.0 L328.6 286.9 L331.1 286.9 L333.6 286.9 L336.1 286.8 L338.6 286.8 L341.1 286.8 L343.5 286.8 L346.0 286.7 L348.5 286.7 L351.0 286.7 L353.5 286.6 L356.0 286.6 L358.5 286.6 L361.0 286.6 L363.4 286.6 L365.9 286.6 L368.4 286.5 L370.9 286.5 L373.4 286.5 L375.9 286.5 L378.4 286.5 L380.9 286.5 L383.3 286.6 L385.8 286.6 L388.3 286.8 L390.8 287.0 L393.3 287.3 L395.8 287.6 L398.3 288.0 L400.8 288.4 L403.2 288.8 L405.7 289.3 L408.2 289.8 L410.7 290.3 L413.2 290.9 L415.7 291.4 L418.2 292.0 L420.7 292.5 L423.1 293.0 L425.6 293.5 L428.1 294.0 L430.6 294.5 L433.1 294.9 L435.6 295.3 L438.1 295.7 L440.6 296.1 L443.0 296.5 L445.5 296.8 L448.0 297.2 L450.5 297.6 L453.0 297.9 L455.5 298.3 L458.0 298.6 L460.5 299.0 L462.9 299.3 L465.4 299.7 L467.9 300.0 L470.4 300.4 L472.9 300.7 L475.4 301.0 L477.9 301.3 L480.4 301.6 L482.8 302.0 L485.3 302.3 L487.8 302.6 L490.3 302.9 L492.8 303.2 L495.3 303.5 L497.8 303.7 L500.3 304.0 L502.7 304.3 L505.2 304.6 L507.7 304.9 L510.2 305.2 L512.7 305.4 L515.2 305.7 L517.7 306.0 L520.2 306.2 L522.6 306.5 L525.1 306.8 L527.6 307.0 L530.1 307.3 L532.6 307.5 L535.1 307.8 L537.6 308.0 L540.1 308.2 L542.5 308.5 L545.0 308.7 L547.5 308.9 L550.0 309.0 L550.0 378.7 L547.5 378.6 L545.0 378.4 L542.5 378.2 L540.1 378.0 L537.6 377.8 L535.1 377.5 L532.6 377.3 L530.1 377.1 L527.6 376.8 L525.1 376.6 L522.6 376.4 L520.2 376.1 L517.7 375.9 L515.2 375.7 L512.7 375.4 L510.2 375.2 L507.7 374.9 L505.2 374.7 L502.7 374.4 L500.3 374.2 L497.8 373.9 L495.3 373.7 L492.8 373.4 L490.3 373.2 L487.8 372.9 L485.3 372.7 L482.8 372.4 L480.4 372.2 L477.9 371.9 L475.4 371.6 L472.9 371.4 L470.4 371.1 L467.9 370.9 L465.4 370.6 L462.9 370.3 L460.5 370.0 L458.0 369.8 L455.5 369.5 L453.0 369.2 L450.5 368.9 L448.0 368.6 L445.5 368.3 L443.0 368.0 L440.6 367.7 L438.1 367.4 L435.6 367.0 L433.1 366.7 L430.6 366.3 L428.1 365.8 L425.6 365.3 L423.1 364.8 L420.7 364.3 L418.2 363.8 L415.7 363.2 L413.2 362.7 L410.7 362.1 L408.2 361.6 L405.7 361.0 L403.2 360.5 L400.8 360.1 L398.3 359.6 L395.8 359.3 L393.3 358.9 L390.8 358.6 L388.3 358.4 L385.8 358.2 L383.3 358.2 L380.9 358.1 L378.4 358.1 L375.9 358.1 L373.4 358.1 L370.9 358.2 L368.4 358.2 L365.9 358.2 L363.4 358.3 L361.0 358.3 L358.5 358.3 L356.0 358.4 L353.5 358.4 L351.0 358.5 L348.5 358.6 L346.0 358.6 L343.5 358.7 L341.1 358.7 L338.6 358.8 L336.1 358.8 L333.6 358.9 L331.1 359.0 L328.6 359.0 L326.1 359.1 L323.6 359.1 L321.2 359.2 L318.7 359.2 L316.2 359.3 L313.7 359.3 L311.2 359.4 L308.7 359.4 L306.2 359.5 L303.7 359.5 L301.3 359.6 L298.8 359.6 L296.3 359.7 L293.8 359.7 L291.3 359.8 L288.8 359.8 L286.3 359.9 L283.8 359.9 L281.4 360.0 L278.9 360.0 L276.4 360.0 L273.9 360.1 L271.4 360.1 L268.9 360.1 L266.4 360.2 L263.9 360.2 L261.5 360.2 L259.0 360.2 L256.5 360.2 L254.0 360.2 L251.5 360.2 L249.0 360.2 L246.5 360.1 L244.0 360.1 L241.6 360.1 L239.1 360.0 L236.6 360.0 L234.1 359.9 L231.6 359.8 L229.1 359.8 L226.6 359.7 L224.1 359.7 L221.7 359.6 L219.2 359.5 L216.7 359.4 L214.2 359.4 L211.7 359.3 L209.2 359.2 L206.7 359.1 L204.2 358.9 L201.8 358.8 L199.3 358.6 L196.8 358.4 L194.3 358.2 L191.8 358.0 L189.3 357.8 L186.8 357.6 L184.3 357.4 L181.9 357.1 L179.4 356.9 L176.9 356.6 L174.4 356.4 L171.9 356.1 L169.4 355.8 L166.9 355.5 L164.4 355.2 L162.0 354.9 L159.5 354.7 L157.0 354.4 L154.5 354.1 L152.0 353.8 L149.5 353.5 L147.0 353.1 L144.5 352.8 L142.1 352.4 L139.6 352.1 L137.1 351.7 L134.6 351.3 L132.1 350.8 L129.6 350.4 L127.1 350.0 L124.6 349.5 L122.2 349.0 L119.7 348.6 L117.2 348.1 L114.7 347.6 L112.2 347.2 L109.7 346.7 L107.2 346.3 L104.7 345.8 L102.3 345.4 L99.8 344.9 L97.3 344.5 L94.8 344.0 L92.3 343.6 L89.8 343.1 L87.3 342.7 L84.8 342.3 L82.4 341.8 L79.9 341.4 L77.4 340.9 L74.9 340.5 L72.4 340.0 L69.9 339.5 L67.4 339.1 L64.9 338.6 L62.5 338.2 L60.0 337.7 L57.5 337.3 L55.0 337.0 Z" fill="#dbdcde"/>
<path d="M55.0 387.1 L57.5 387.4 L60.0 387.7 L62.5 388.0 L64.9 388.3 L67.4 388.6 L69.9 389.0 L72.4 389.3 L74.9 389.6 L77.4 389.9 L79.9 390.2 L82.4 390.4 L84.8 390.7 L87.3 391.0 L89.8 391.3 L92.3 391.6 L94.8 391.9 L97.3 392.2 L99.8 392.6 L102.3 392.9 L104.7 393.4 L107.2 393.9 L109.7 394.4 L112.2 394.9 L114.7 395.5 L117.2 396.0 L119.7 396.5 L122.2 397.0 L124.6 397.4 L127.1 397.8 L129.6 398.2 L132.1 398.5 L134.6 398.8 L137.1 399.1 L139.6 399.4 L142.1 399.7 L144.5 400.0 L147.0 400.3 L149.5 400.6 L152.0 400.9 L154.5 401.1 L157.0 401.4 L159.5 401.7 L162.0 401.9 L164.4 402.2 L166.9 402.5 L169.4 402.7 L171.9 403.0 L174.4 403.2 L176.9 403.5 L179.4 403.8 L181.9 404.0 L184.3 404.3 L186.8 404.5 L189.3 404.8 L191.8 405.1 L194.3 405.4 L196.8 405.7 L199.3 406.0 L201.8 406.3 L204.2 406.6 L206.7 406.9 L209.2 407.1 L211.7 407.4 L214.2 407.6 L216.7 407.8 L219.2 408.0 L221.7 408.2 L224.1 408.4 L226.6 408.5 L229.1 408.6 L231.6 408.8 L234.1 408.9 L236.6 409.0 L239.1 409.2 L241.6 409.3 L244.0 409.5 L246.5 409.6 L249.0 409.8 L251.5 409.9 L254.0 410.1 L256.5 410.3 L259.0 410.6 L261.5 410.9 L263.9 411.3 L266.4 411.7 L268.9 412.3 L271.4 412.9 L273.9 413.5 L276.4 414.2 L278.9 414.9 L281.4 415.6 L283.8 416.3 L286.3 417.0 L288.8 417.5 L291.3 418.0 L293.8 418.5 L296.3 418.8 L298.8 419.0 L301.3 419.2 L303.7 419.3 L306.2 419.4 L308.7 419.5 L311.2 419.6 L313.7 419.7 L316.2 419.7 L318.7 419.8 L321.2 419.9 L323.6 420.0 L326.1 420.1 L328.6 420.2 L331.1 420.3 L333.6 420.5 L336.1 420.7 L338.6 421.0 L341.1 421.3 L343.5 421.6 L346.0 421.9 L348.5 422.2 L351.0 422.6 L353.5 423.0 L356.0 423.4 L358.5 423.8 L361.0 424.2 L363.4 424.6 L365.9 425.0 L368.4 425.5 L370.9 425.9 L373.4 426.3 L375.9 426.6 L378.4 427.0 L380.9 427.3 L383.3 427.7 L385.8 428.0 L388.3 428.4 L390.8 428.8 L393.3 429.1 L395.8 429.5 L398.3 429.8 L400.8 430.0 L403.2 430.2 L405.7 430.3 L408.2 430.4 L410.7 430.4 L413.2 430.5 L415.7 430.5 L418.2 430.5 L420.7 430.6 L423.1 430.6 L425.6 430.6 L428.1 430.7 L430.6 430.7 L433.1 430.8 L435.6 430.8 L438.1 431.0 L440.6 431.2 L443.0 431.5 L445.5 431.8 L448.0 432.2 L450.5 432.6 L453.0 433.1 L455.5 433.5 L458.0 434.0 L460.5 434.5 L462.9 435.0 L465.4 435.4 L467.9 435.8 L470.4 436.2 L472.9 436.6 L475.4 436.9 L477.9 437.2 L480.4 437.4 L482.8 437.7 L485.3 438.0 L487.8 438.2 L490.3 438.4 L492.8 438.7 L495.3 438.9 L497.8 439.2 L500.3 439.4 L502.7 439.6 L505.2 439.9 L507.7 440.1 L510.2 440.3 L512.7 440.6 L515.2 440.8 L517.7 441.1 L520.2 441.3 L522.6 441.6 L525.1 441.8 L527.6 442.1 L530.1 442.3 L532.6 442.6 L535.1 442.8 L537.6 443.0 L540.1 443.3 L542.5 443.5 L545.0 443.8 L547.5 444.0 L550.0 444.1 L550.0 499.4 L547.5 499.2 L545.0 498.9 L542.5 498.7 L540.1 498.4 L537.6 498.1 L535.1 497.8 L532.6 497.5 L530.1 497.2 L527.6 496.9 L525.1 496.7 L522.6 496.4 L520.2 496.1 L517.7 495.9 L515.2 495.6 L512.7 495.4 L510.2 495.2 L507.7 494.9 L505.2 494.7 L502.7 494.5 L500.3 494.3 L497.8 494.1 L495.3 493.9 L492.8 493.7 L490.3 493.6 L487.8 493.4 L485.3 493.2 L482.8 493.0 L480.4 492.7 L477.9 492.5 L475.4 492.2 L472.9 492.0 L470.4 491.6 L467.9 491.2 L465.4 490.8 L462.9 490.3 L460.5 489.8 L458.0 489.3 L455.5 488.8 L453.0 488.2 L450.5 487.7 L448.0 487.2 L445.5 486.8 L443.0 486.4 L440.6 486.1 L438.1 485.9 L435.6 485.8 L433.1 485.7 L430.6 485.6 L428.1 485.6 L425.6 485.5 L423.1 485.5 L420.7 485.5 L418.2 485.4 L415.7 485.4 L413.2 485.4 L410.7 485.3 L408.2 485.3 L405.7 485.2 L403.2 485.1 L400.8 484.9 L398.3 484.6 L395.8 484.3 L393.3 483.9 L390.8 483.5 L388.3 483.1 L385.8 482.8 L383.3 482.4 L380.9 482.1 L378.4 481.7 L375.9 481.4 L373.4 481.1 L370.9 480.8 L368.4 480.4 L365.9 480.1 L363.4 479.8 L361.0 479.4 L358.5 479.1 L356.0 478.8 L353.5 478.5 L351.0 478.2 L348.5 477.9 L346.0 477.6 L343.5 477.3 L341.1 477.0 L338.6 476.8 L336.1 476.6 L333.6 476.3 L331.1 476.1 L328.6 476.0 L326.1 475.8 L323.6 475.7 L321.2 475.6 L318.7 475.4 L316.2 475.3 L313.7 475.2 L311.2 475.1 L308.7 475.0 L306.2 474.9 L303.7 474.7 L301.3 474.5 L298.8 474.3 L296.3 474.1 L293.8 473.8 L291.3 473.4 L288.8 472.9 L286.3 472.4 L283.8 471.9 L281.4 471.3 L278.9 470.7 L276.4 470.1 L273.9 469.5 L271.4 468.9 L268.9 468.3 L266.4 467.8 L263.9 467.4 L261.5 467.0 L259.0 466.7 L256.5 466.4 L254.0 466.1 L251.5 465.8 L249.0 465.6 L246.5 465.3 L244.0 465.1 L241.6 464.9 L239.1 464.6 L236.6 464.4 L234.1 464.2 L231.6 464.0 L229.1 463.8 L226.6 463.6 L224.1 463.4 L221.7 463.2 L219.2 463.0 L216.7 462.8 L214.2 462.6 L211.7 462.4 L209.2 462.2 L206.7 462.0 L204.2 461.8 L201.8 461.6 L199.3 461.4 L196.8 461.2 L194.3 461.0 L191.8 460.8 L189.3 460.6 L186.8 460.4 L184.3 460.2 L181.9 460.0 L179.4 459.8 L176.9 459.6 L174.4 459.5 L171.9 459.3 L169.4 459.1 L166.9 458.9 L164.4 458.7 L162.0 458.5 L159.5 458.3 L157.0 458.1 L154.5 457.9 L152.0 457.6 L149.5 457.4 L147.0 457.1 L144.5 456.8 L142.1 456.5 L139.6 456.2 L137.1 455.9 L134.6 455.5 L132.1 455.2 L129.6 454.8 L127.1 454.4 L124.6 454.0 L122.2 453.6 L119.7 453.2 L117.2 452.7 L114.7 452.3 L112.2 451.8 L109.7 451.3 L107.2 450.9 L104.7 450.4 L102.3 450.0 L99.8 449.6 L97.3 449.3 L94.8 449.0 L92.3 448.7 L89.8 448.4 L87.3 448.2 L84.8 447.9 L82.4 447.6 L79.9 447.3 L77.4 447.0 L74.9 446.7 L72.4 446.3 L69.9 445.9 L67.4 445.6 L64.9 445.1 L62.5 444.7 L60.0 444.3 L57.5 443.9 L55.0 443.6 Z" fill="#dbdcde"/>
</g>
<g id="dashes">
<line x1="55.0" x2="550.0" y1="122.4" y2="122.4" stroke="#d4d4d4" stroke-width="2.4" stroke-dasharray="7.4 1.8"/>
<line x1="55.0" x2="550.0" y1="122.4" y2="122.4" stroke="#c2c2c2" stroke-width="0.9" stroke-dasharray="7.4 1.8"/>
<line x1="55.0" x2="550.0" y1="236.2" y2="236.2" stroke="#d4d4d4" stroke-width="2.4" stroke-dasharray="7.4 1.8"/>
<line x1="55.0" x2="550.0" y1="236.2" y2="236.2" stroke="#c2c2c2" stroke-width="0.9" stroke-dasharray="7.4 1.8"/>
<line x1="55.0" x2="550.0" y1="261.8" y2="261.8" stroke="#d4d4d4" stroke-width="2.4" stroke-dasharray="7.4 1.8"/>
<line x1="55.0" x2="550.0" y1="261.8" y2="261.8" stroke="#c2c2c2" stroke-width="0.9" stroke-dasharray="7.4 1.8"/>
<line x1="55.0" x2="550.0" y1="503.4" y2="503.4" stroke="#d4d4d4" stroke-width="2.4" stroke-dasharray="7.4 1.8"/>
<line x1="55.0" x2="550.0" y1="503.4" y2="503.4" stroke="#c2c2c2" stroke-width="0.9" stroke-dasharray="7.4 1.8"/>
</g>
<g id="dashdark" clip-path="url(#bandclip)">
<line x1="55.0" x2="550.0" y1="122.4" y2="122.4" stroke="#9a9a9a" stroke-width="2.4" stroke-dasharray="7.4 1.8"/>
<line x1="55.0" x2="550.0" y1="236.2" y2="236.2" stroke="#9a9a9a" stroke-width="2.4" stroke-dasharray="7.4 1.8"/>
<line x1="55.0" x2="550.0" y1="261.8" y2="261.8" stroke="#9a9a9a" stroke-width="2.4" stroke-dasharray="7.4 1.8"/>
<line x1="55.0" x2="550.0" y1="503.4" y2="503.4" stroke="#9a9a9a" stroke-width="2.4" stroke-dasharray="7.4 1.8"/>
</g>
<g id="lines">
<path d="M55.0 31.3 L57.5 31.7 L60.0 32.2 L62.5 32.8 L64.9 33.4 L67.4 34.0 L69.9 34.6 L72.4 35.2 L74.9 35.7 L77.4 36.3 L79.9 36.9 L82.4 37.4 L84.8 37.9 L87.3 38.5 L89.8 39.0 L92.3 39.5 L94.8 40.0 L97.3 40.5 L99.8 41.0 L102.3 41.5 L104.7 42.0 L107.2 42.6 L109.7 43.1 L112.2 43.6 L114.7 44.1 L117.2 44.6 L119.7 45.1 L122.2 45.6 L124.6 46.1 L127.1 46.6 L129.6 47.0 L132.1 47.4 L134.6 47.9 L137.1 48.2 L139.6 48.6 L142.1 48.9 L144.5 49.2 L147.0 49.4 L149.5 49.6 L152.0 49.8 L154.5 50.0 L157.0 50.2 L159.5 50.4 L162.0 50.5 L164.4 50.6 L166.9 50.7 L169.4 50.8 L171.9 50.9 L174.4 50.9 L176.9 50.9 L179.4 50.9 L181.9 50.8 L184.3 50.8 L186.8 50.7 L189.3 50.6 L191.8 50.5 L194.3 50.4 L196.8 50.3 L199.3 50.2 L201.8 50.1 L204.2 49.9 L206.7 49.8 L209.2 49.6 L211.7 49.4 L214.2 49.2 L216.7 48.9 L219.2 48.6 L221.7 48.3 L224.1 47.9 L226.6 47.4 L229.1 47.0 L231.6 46.5 L234.1 46.0 L236.6 45.5 L239.1 44.9 L241.6 44.2 L244.0 43.5 L246.5 42.9 L249.0 42.3 L251.5 41.7 L254.0 41.1 L256.5 40.5 L259.0 40.0 L261.5 39.6 L263.9 39.3 L266.4 39.1 L268.9 39.1 L271.4 39.2 L273.9 39.5 L276.4 39.7 L278.9 40.1 L281.4 40.5 L283.8 41.1 L286.3 41.7 L288.8 42.4 L291.3 43.2 L293.8 44.0 L296.3 44.8 L298.8 45.7 L301.3 46.6 L303.7 47.4 L306.2 48.1 L308.7 48.8 L311.2 49.4 L313.7 49.9 L316.2 50.4 L318.7 50.9 L321.2 51.3 L323.6 51.6 L326.1 51.8 L328.6 51.9 L331.1 51.9 L333.6 51.9 L336.1 51.8 L338.6 51.6 L341.1 51.5 L343.5 51.3 L346.0 51.1 L348.5 50.9 L351.0 50.7 L353.5 50.5 L356.0 50.2 L358.5 50.0 L361.0 49.7 L363.4 49.4 L365.9 49.0 L368.4 48.7 L370.9 48.4 L373.4 48.0 L375.9 47.7 L378.4 47.4 L380.9 47.0 L383.3 46.7 L385.8 46.4 L388.3 46.1 L390.8 45.8 L393.3 45.5 L395.8 45.2 L398.3 44.9 L400.8 44.6 L403.2 44.3 L405.7 44.0 L408.2 43.6 L410.7 43.3 L413.2 43.0 L415.7 42.7 L418.2 42.4 L420.7 42.1 L423.1 41.8 L425.6 41.5 L428.1 41.2 L430.6 40.8 L433.1 40.5 L435.6 40.2 L438.1 39.9 L440.6 39.6 L443.0 39.3 L445.5 39.0 L448.0 38.7 L450.5 38.4 L453.0 38.1 L455.5 37.8 L458.0 37.6 L460.5 37.3 L462.9 37.0 L465.4 36.7 L467.9 36.4 L470.4 36.2 L472.9 35.9 L475.4 35.6 L477.9 35.4 L480.4 35.1 L482.8 34.9 L485.3 34.6 L487.8 34.3 L490.3 34.1 L492.8 33.8 L495.3 33.6 L497.8 33.3 L500.3 33.1 L502.7 32.8 L505.2 32.6 L507.7 32.3 L510.2 32.1 L512.7 31.9 L515.2 31.6 L517.7 31.4 L520.2 31.1 L522.6 30.9 L525.1 30.7 L527.6 30.4 L530.1 30.2 L532.6 30.0 L535.1 29.8 L537.6 29.5 L540.1 29.3 L542.5 29.1 L545.0 28.9 L547.5 28.7 L550.0 28.6" fill="none" stroke="#929292" stroke-width="1.7"/>
<path d="M55.0 206.7 L57.5 207.1 L60.0 207.7 L62.5 208.4 L64.9 209.0 L67.4 209.5 L69.9 209.9 L72.4 210.3 L74.9 210.6 L77.4 210.8 L79.9 210.9 L82.4 211.1 L84.8 211.2 L87.3 211.3 L89.8 211.4 L92.3 211.6 L94.8 211.7 L97.3 211.8 L99.8 211.9 L102.3 211.9 L104.7 212.0 L107.2 212.1 L109.7 212.1 L112.2 212.2 L114.7 212.2 L117.2 212.3 L119.7 212.3 L122.2 212.3 L124.6 212.3 L127.1 212.3 L129.6 212.3 L132.1 212.3 L134.6 212.3 L137.1 212.3 L139.6 212.2 L142.1 212.2 L144.5 212.2 L147.0 212.2 L149.5 212.1 L152.0 212.1 L154.5 212.1 L157.0 212.1 L159.5 212.0 L162.0 212.0 L164.4 211.9 L166.9 211.9 L169.4 211.8 L171.9 211.8 L174.4 211.8 L176.9 211.7 L179.4 211.6 L181.9 211.6 L184.3 211.5 L186.8 211.5 L189.3 211.4 L191.8 211.4 L194.3 211.3 L196.8 211.2 L199.3 211.2 L201.8 211.1 L204.2 211.1 L206.7 211.0 L209.2 210.9 L211.7 210.8 L214.2 210.8 L216.7 210.7 L219.2 210.6 L221.7 210.5 L224.1 210.4 L226.6 210.2 L229.1 210.1 L231.6 210.0 L234.1 209.8 L236.6 209.7 L239.1 209.5 L241.6 209.4 L244.0 209.2 L246.5 209.0 L249.0 208.8 L251.5 208.6 L254.0 208.4 L256.5 208.2 L259.0 208.0 L261.5 207.8 L263.9 207.6 L266.4 207.4 L268.9 207.1 L271.4 206.9 L273.9 206.7 L276.4 206.4 L278.9 206.2 L281.4 205.9 L283.8 205.6 L286.3 205.4 L288.8 205.1 L291.3 204.8 L293.8 204.4 L296.3 204.1 L298.8 203.7 L301.3 203.3 L303.7 202.9 L306.2 202.5 L308.7 202.0 L311.2 201.6 L313.7 201.1 L316.2 200.6 L318.7 200.1 L321.2 199.6 L323.6 199.1 L326.1 198.6 L328.6 198.1 L331.1 197.6 L333.6 197.1 L336.1 196.5 L338.6 195.9 L341.1 195.3 L343.5 194.7 L346.0 194.1 L348.5 193.4 L351.0 192.8 L353.5 192.1 L356.0 191.5 L358.5 190.9 L361.0 190.4 L363.4 189.9 L365.9 189.4 L368.4 188.8 L370.9 188.0 L373.4 187.0 L375.9 185.8 L378.4 184.3 L380.9 182.8 L383.3 181.1 L385.8 179.2 L388.3 177.2 L390.8 175.1 L393.3 173.0 L395.8 170.8 L398.3 168.5 L400.8 166.4 L403.2 164.4 L405.7 162.6 L408.2 161.0 L410.7 159.6 L413.2 158.6 L415.7 158.1 L418.2 158.2 L420.7 159.1 L423.1 160.6 L425.6 162.6 L428.1 165.2 L430.6 168.4 L433.1 172.4 L435.6 176.9 L438.1 181.7 L440.6 186.8 L443.0 191.8 L445.5 196.8 L448.0 201.5 L450.5 205.8 L453.0 209.7 L455.5 213.2 L458.0 216.3 L460.5 219.0 L462.9 221.4 L465.4 223.4 L467.9 225.1 L470.4 226.5 L472.9 227.6 L475.4 228.4 L477.9 229.0 L480.4 229.4 L482.8 229.8 L485.3 230.0 L487.8 230.2 L490.3 230.3 L492.8 230.3 L495.3 230.3 L497.8 230.3 L500.3 230.2 L502.7 230.2 L505.2 230.1 L507.7 230.1 L510.2 230.0 L512.7 230.0 L515.2 229.9 L517.7 229.9 L520.2 229.8 L522.6 229.7 L525.1 229.6 L527.6 229.5 L530.1 229.4 L532.6 229.3 L535.1 229.1 L537.6 228.9 L540.1 228.4 L542.5 227.7 L545.0 226.6 L547.5 225.5 L550.0 224.6" fill="none" stroke="#929292" stroke-width="1.7"/>
<path d="M55.0 298.1 L57.5 298.5 L60.0 299.1 L62.5 299.8 L64.9 300.4 L67.4 301.0 L69.9 301.7 L72.4 302.3 L74.9 302.9 L77.4 303.5 L79.9 304.1 L82.4 304.7 L84.8 305.3 L87.3 305.8 L89.8 306.4 L92.3 306.9 L94.8 307.5 L97.3 308.0 L99.8 308.5 L102.3 309.0 L104.7 309.5 L107.2 310.0 L109.7 310.5 L112.2 311.0 L114.7 311.5 L117.2 311.9 L119.7 312.4 L122.2 312.9 L124.6 313.3 L127.1 313.8 L129.6 314.2 L132.1 314.7 L134.6 315.1 L137.1 315.5 L139.6 315.9 L142.1 316.2 L144.5 316.6 L147.0 316.9 L149.5 317.3 L152.0 317.6 L154.5 317.9 L157.0 318.2 L159.5 318.5 L162.0 318.8 L164.4 319.0 L166.9 319.3 L169.4 319.6 L171.9 319.9 L174.4 320.1 L176.9 320.4 L179.4 320.6 L181.9 320.9 L184.3 321.1 L186.8 321.3 L189.3 321.6 L191.8 321.8 L194.3 322.0 L196.8 322.2 L199.3 322.4 L201.8 322.6 L204.2 322.7 L206.7 322.9 L209.2 323.1 L211.7 323.2 L214.2 323.4 L216.7 323.5 L219.2 323.6 L221.7 323.7 L224.1 323.9 L226.6 324.0 L229.1 324.1 L231.6 324.3 L234.1 324.4 L236.6 324.5 L239.1 324.6 L241.6 324.7 L244.0 324.8 L246.5 324.8 L249.0 324.9 L251.5 324.9 L254.0 325.0 L256.5 325.0 L259.0 325.0 L261.5 325.0 L263.9 324.9 L266.4 324.9 L268.9 324.9 L271.4 324.8 L273.9 324.7 L276.4 324.6 L278.9 324.5 L281.4 324.5 L283.8 324.4 L286.3 324.3 L288.8 324.2 L291.3 324.1 L293.8 324.0 L296.3 323.9 L298.8 323.8 L301.3 323.7 L303.7 323.6 L306.2 323.5 L308.7 323.4 L311.2 323.4 L313.7 323.3 L316.2 323.3 L318.7 323.2 L321.2 323.2 L323.6 323.1 L326.1 323.0 L328.6 323.0 L331.1 322.9 L333.6 322.9 L336.1 322.8 L338.6 322.8 L341.1 322.7 L343.5 322.7 L346.0 322.6 L348.5 322.6 L351.0 322.5 L353.5 322.5 L356.0 322.4 L358.5 322.4 L361.0 322.4 L363.4 322.3 L365.9 322.3 L368.4 322.3 L370.9 322.2 L373.4 322.2 L375.9 322.2 L378.4 322.2 L380.9 322.2 L383.3 322.2 L385.8 322.3 L388.3 322.5 L390.8 322.7 L393.3 322.9 L395.8 323.2 L398.3 323.6 L400.8 324.0 L403.2 324.4 L405.7 324.9 L408.2 325.4 L410.7 325.8 L413.2 326.4 L415.7 326.9 L418.2 327.4 L420.7 327.9 L423.1 328.4 L425.6 328.9 L428.1 329.3 L430.6 329.8 L433.1 330.2 L435.6 330.5 L438.1 330.9 L440.6 331.2 L443.0 331.6 L445.5 331.9 L448.0 332.2 L450.5 332.5 L453.0 332.9 L455.5 333.2 L458.0 333.5 L460.5 333.8 L462.9 334.1 L465.4 334.4 L467.9 334.7 L470.4 335.0 L472.9 335.3 L475.4 335.6 L477.9 335.9 L480.4 336.2 L482.8 336.5 L485.3 336.8 L487.8 337.1 L490.3 337.3 L492.8 337.6 L495.3 337.9 L497.8 338.2 L500.3 338.5 L502.7 338.7 L505.2 339.0 L507.7 339.3 L510.2 339.6 L512.7 339.8 L515.2 340.1 L517.7 340.4 L520.2 340.6 L522.6 340.9 L525.1 341.2 L527.6 341.4 L530.1 341.7 L532.6 341.9 L535.1 342.2 L537.6 342.4 L540.1 342.7 L542.5 342.9 L545.0 343.2 L547.5 343.4 L550.0 343.5" fill="none" stroke="#929292" stroke-width="1.7"/>
<path d="M55.0 415.4 L57.5 415.7 L60.0 416.1 L62.5 416.5 L64.9 416.9 L67.4 417.3 L69.9 417.6 L72.4 418.0 L74.9 418.3 L77.4 418.6 L79.9 418.8 L82.4 419.1 L84.8 419.3 L87.3 419.5 L89.8 419.7 L92.3 420.0 L94.8 420.2 L97.3 420.5 L99.8 420.8 L102.3 421.1 L104.7 421.5 L107.2 421.9 L109.7 422.4 L112.2 422.8 L114.7 423.3 L117.2 423.8 L119.7 424.3 L122.2 424.7 L124.6 425.1 L127.1 425.5 L129.6 425.9 L132.1 426.3 L134.6 426.6 L137.1 426.9 L139.6 427.3 L142.1 427.6 L144.5 427.9 L147.0 428.2 L149.5 428.5 L152.0 428.7 L154.5 429.0 L157.0 429.3 L159.5 429.5 L162.0 429.7 L164.4 430.0 L166.9 430.2 L169.4 430.4 L171.9 430.6 L174.4 430.8 L176.9 431.1 L179.4 431.3 L181.9 431.5 L184.3 431.7 L186.8 432.0 L189.3 432.2 L191.8 432.5 L194.3 432.7 L196.8 433.0 L199.3 433.2 L201.8 433.5 L204.2 433.7 L206.7 434.0 L209.2 434.2 L211.7 434.5 L214.2 434.7 L216.7 434.9 L219.2 435.1 L221.7 435.3 L224.1 435.5 L226.6 435.7 L229.1 435.9 L231.6 436.1 L234.1 436.2 L236.6 436.4 L239.1 436.6 L241.6 436.7 L244.0 436.9 L246.5 437.1 L249.0 437.3 L251.5 437.5 L254.0 437.8 L256.5 438.0 L259.0 438.3 L261.5 438.6 L263.9 439.0 L266.4 439.4 L268.9 439.9 L271.4 440.4 L273.9 441.0 L276.4 441.6 L278.9 442.2 L281.4 442.8 L283.8 443.4 L286.3 443.9 L288.8 444.5 L291.3 444.9 L293.8 445.3 L296.3 445.7 L298.8 445.9 L301.3 446.2 L303.7 446.3 L306.2 446.5 L308.7 446.7 L311.2 446.8 L313.7 446.9 L316.2 447.0 L318.7 447.2 L321.2 447.3 L323.6 447.4 L326.1 447.6 L328.6 447.8 L331.1 447.9 L333.6 448.2 L336.1 448.4 L338.6 448.6 L341.1 448.9 L343.5 449.2 L346.0 449.5 L348.5 449.8 L351.0 450.1 L353.5 450.4 L356.0 450.8 L358.5 451.1 L361.0 451.5 L363.4 451.8 L365.9 452.2 L368.4 452.5 L370.9 452.9 L373.4 453.3 L375.9 453.6 L378.4 454.0 L380.9 454.3 L383.3 454.7 L385.8 455.1 L388.3 455.6 L390.8 456.0 L393.3 456.5 L395.8 456.9 L398.3 457.3 L400.8 457.6 L403.2 457.8 L405.7 458.0 L408.2 458.1 L410.7 458.1 L413.2 458.2 L415.7 458.2 L418.2 458.2 L420.7 458.3 L423.1 458.3 L425.6 458.3 L428.1 458.4 L430.6 458.4 L433.1 458.5 L435.6 458.5 L438.1 458.7 L440.6 458.9 L443.0 459.2 L445.5 459.5 L448.0 459.9 L450.5 460.3 L453.0 460.8 L455.5 461.2 L458.0 461.7 L460.5 462.2 L462.9 462.7 L465.4 463.1 L467.9 463.5 L470.4 463.9 L472.9 464.3 L475.4 464.6 L477.9 464.9 L480.4 465.1 L482.8 465.4 L485.3 465.7 L487.8 465.9 L490.3 466.2 L492.8 466.4 L495.3 466.6 L497.8 466.9 L500.3 467.1 L502.7 467.3 L505.2 467.6 L507.7 467.8 L510.2 468.0 L512.7 468.3 L515.2 468.5 L517.7 468.8 L520.2 469.0 L522.6 469.3 L525.1 469.5 L527.6 469.7 L530.1 470.0 L532.6 470.2 L535.1 470.4 L537.6 470.7 L540.1 470.9 L542.5 471.1 L545.0 471.4 L547.5 471.6 L550.0 471.7" fill="none" stroke="#929292" stroke-width="1.7"/>
</g>
<g id="images">

<g clip-path="url(#cA)"><g filter="url(#ib)"><rect x="557.8" y="1.2" width="127.0" height="56.0" fill="#fee5a4" opacity="1"/>
<path d="M629.8 19.2 Q637.0 8.5 653.9 3.8 Q669.0 1.5 685.9 1.5 L685.9 20.7 L629.8 20.7 Z" fill="#fdca7f" stroke="none" stroke-width="1" opacity="1" stroke-linecap="round"/>
<path d="M638.9 19.8 Q653.9 8.5 685.9 6.6 L685.9 20.7 L638.9 20.7 Z" fill="#fdbe70" stroke="none" stroke-width="1" opacity="1" stroke-linecap="round"/>
<path d="M629.8 19.2 Q637.0 7.5 655.8 3.4" fill="none" stroke="#d6e9ee" stroke-width="1.1" opacity="1" stroke-linecap="round"/>
<path d="M655.8 3.4 Q669.0 1.5 685.9 1.9" fill="none" stroke="#bcdcec" stroke-width="1.4" opacity="1" stroke-linecap="round"/>
<path d="M598.4 2 C598 11 590 17 576 19.2 L620 19.2 C607 17 599 11 598.4 2Z" fill="#fff8cc" stroke="none" stroke-width="1" opacity="1" stroke-linecap="round"/>
<path d="M646.4 12.8 L644.5 18.8 L648.7 18.8 Z" fill="#fff3c0" stroke="none" stroke-width="1" opacity="1" stroke-linecap="round"/>
<path d="M661.8 13.6 L660.0 19.2 L664.1 19.2 Z" fill="#fff3c0" stroke="none" stroke-width="1" opacity="1" stroke-linecap="round"/>
<rect x="557.8" y="19.0" width="127.0" height="37.0" fill="#fdc97c" opacity="1"/>
<polygon points="556.0,19.0 581.4,19.0 581.4,25.2 567.3,28.6 556.0,30.9" fill="#f47647" opacity="1"/>
<polygon points="556.0,30.1 567.3,28.2 584.2,24.1 584.2,38.6 556.0,37.7" fill="#fdc474" opacity="1"/>
<path d="M584.2 19.4 L611.0 19.4 Q618.1 32.0 612.5 45.6 Q591.8 37.7 584.2 19.4 Z" fill="#f58a50" stroke="none" stroke-width="1" opacity="1" stroke-linecap="round"/>
<path d="M612.1 20.7 L632.3 23.5 Q628.5 35.8 618.1 44.8 Q620.0 32.0 612.1 20.7 Z" fill="#fba45d" stroke="none" stroke-width="1" opacity="1" stroke-linecap="round"/>
<path d="M611.0 19.4 Q619.1 32.0 612.5 45.6" fill="none" stroke="#fee9a8" stroke-width="1.1" opacity="1" stroke-linecap="round"/>
<polygon points="638.9,19.6 664.3,20.7 664.3,30.5 644.5,28.6 636.6,25.4" fill="#f26841" opacity="1"/>
<polygon points="620.6,18.3 639.6,18.6 638.9,26.2 624.9,26.0" fill="#a50f26" opacity="1"/>
<polygon points="662.2,20.9 685.9,21.7 685.9,29.9 667.9,29.6" fill="#b2182b" opacity="1"/>
<polygon points="580.1,21.1 587.1,21.1 584.2,25.6 580.9,25.2" fill="#c32a2c" opacity="1"/>
<polygon points="632.3,24.5 644.5,28.2 685.9,29.8 685.9,38.6 661.5,37.3 644.5,40.5 630.4,47.1 628.5,35.8" fill="#fdc273" opacity="1"/>
<path d="M638.9 28.2 Q661.5 31.1 685.9 36.7" fill="none" stroke="#d6e9ee" stroke-width="1.1" opacity="1" stroke-linecap="round"/>
<path d="M556.0 41.8 Q584.2 32.0 612.5 47.1 L612.5 56.5 L556.0 56.5 Z" fill="#fee8a6" stroke="none" stroke-width="1" opacity="1" stroke-linecap="round"/>
<ellipse cx="578.6" cy="47.1" rx="14.0" ry="5.0" fill="#fff1b8" opacity="1" transform="rotate(0 578.6 47.1)"/>
<path d="M556.0 38.6 Q571.1 35.8 584.2 39.0" fill="none" stroke="#d6e9ee" stroke-width="1.2" opacity="1" stroke-linecap="round"/>
<polygon points="612.5,45.6 618.1,44.8 630.4,47.1 635.1,56.5 610.6,56.5" fill="#feeaaa" opacity="1"/>
<path d="M612.5 46.1 Q618.1 50.8 635.1 54.6" fill="none" stroke="#d6e9ee" stroke-width="1.1" opacity="1" stroke-linecap="round"/>
<path d="M630.4 47.1 Q621.9 49.9 612.5 56.5" fill="none" stroke="#d6e9ee" stroke-width="1.0" opacity="1" stroke-linecap="round"/>
<path d="M631.0 48.0 Q644.5 39.5 662.4 37.7 Q674.6 37.3 685.9 38.8 L685.9 55.0 Q653.9 55.7 631.0 48.0 Z" fill="#ee6b42" stroke="none" stroke-width="1" opacity="1" stroke-linecap="round"/>
<path d="M631.0 48.0 Q644.5 39.5 662.4 37.7 Q674.6 37.3 685.9 38.8" fill="none" stroke="#f9a25c" stroke-width="1.6" opacity="1" stroke-linecap="round"/>
<path d="M665.2 43.7 L665.6 55.0" fill="none" stroke="#f58a52" stroke-width="1.0" opacity="1" stroke-linecap="round"/>
<path d="M675.0 42.4 L675.4 55.0" fill="none" stroke="#f58a52" stroke-width="1.0" opacity="1" stroke-linecap="round"/>
<path d="M557.9 18.8 Q578.6 20.3 598.4 16.6" fill="none" stroke="#cfe6ee" stroke-width="1.1" opacity="1" stroke-linecap="round"/>
<path d="M598.4 16.6 Q610.6 20.3 621.0 18.5" fill="none" stroke="#cfe6ee" stroke-width="1.1" opacity="1" stroke-linecap="round"/>
<rect x="557.8" y="56.0" width="127.0" height="44.0" fill="#5383c5" opacity="1"/>
<rect x="557.8" y="55.6" width="127.0" height="2.2" fill="#8db9de" opacity="1"/>
<polygon points="556.0,76.5 612.5,78.0 685.9,78.4 685.9,85.0 612.5,87.8 556.0,89.7" fill="#8fc1e2" opacity="1"/>
<polygon points="556.0,74.6 572.9,77.4 571.1,89.7 556.0,90.6" fill="#a6d1ea" opacity="1"/>
<polygon points="631.3,80.2 685.9,79.3 685.9,99.1 635.1,100.0" fill="#94c4e4" opacity="1"/>
<polygon points="556.0,59.9 584.2,61.8 616.3,65.6 685.9,72.3 685.9,78.4 618.1,74.6 584.2,70.5 556.0,69.9" fill="#3343a2" opacity="1"/>
<polygon points="556.0,69.9 584.2,70.5 618.1,74.6 618.1,78.4 556.0,77.4" fill="#4a70bb" opacity="1"/>
<polygon points="612.5,69.9 685.9,70.8 685.9,78.0 612.5,75.5" fill="#2f3f9f" opacity="1"/>
<polygon points="556.0,91.9 593.7,85.0 631.3,78.0 685.9,70.8 685.9,74.2 631.3,81.4 593.7,88.2 556.0,95.7" fill="#3a50aa" opacity="1"/>
<polygon points="556.0,89.7 612.5,87.8 635.1,89.7 635.1,100.0 556.0,101.3" fill="#6496cf" opacity="1"/>
<polygon points="556.0,94.9 576.7,94.2 621.9,94.9 644.5,97.2 644.5,99.5 556.0,99.8" fill="#3b50aa" opacity="1"/>
<path d="M556.0 63.3 L612.5 61.0 L685.9 62.4" fill="none" stroke="#3f5cb0" stroke-width="1.2" opacity="0.8" stroke-linecap="round"/>
<path d="M556.0 83.1 L584.2 86.3 L618.1 85.5 L685.9 87.8" fill="none" stroke="#5d8ac8" stroke-width="1.3" opacity="1" stroke-linecap="round"/>
<path d="M599.3 74.6 L618.1 88.7 L635.1 101.3" fill="none" stroke="#4f78be" stroke-width="1.3" opacity="1" stroke-linecap="round"/>
<path d="M640.7 80.2 L661.5 89.7 L685.9 94.4" fill="none" stroke="#6a9bd0" stroke-width="1.3" opacity="1" stroke-linecap="round"/>
<path d="M685.9 83.1 L661.5 92.5 L637.0 101.3" fill="none" stroke="#6a9bd0" stroke-width="1.2" opacity="1" stroke-linecap="round"/>
<path d="M561.6 76.5 L567.3 89.7 L563.5 101.0" fill="none" stroke="#6a9bd0" stroke-width="1.0" opacity="1" stroke-linecap="round"/>
<rect x="621.0" y="98.0" width="16.0" height="2.2" fill="#f6f3c0" opacity="1"/>
<rect x="557.8" y="99.5" width="127.0" height="28.0" fill="#cfe6f0" opacity="1"/>
<ellipse cx="596.0" cy="111.0" rx="27.0" ry="8.5" fill="#fdf7c2" opacity="1" transform="rotate(-4 596.0 111.0)"/>
<ellipse cx="565.0" cy="118.0" rx="8.0" ry="6.0" fill="#e8f3e4" opacity="1" transform="rotate(0 565.0 118.0)"/>
<rect x="622.0" y="98.0" width="28.0" height="3.0" fill="#fbf4c0" opacity="1"/>
<polygon points="622.0,100.0 685.0,100.0 685.0,114.0 640.0,116.0" fill="#b2d7ec" opacity="1"/>
<path d="M622.0 101.0 L668.0 126.0" fill="none" stroke="#5b8fc9" stroke-width="1.4" opacity="1" stroke-linecap="round"/>
<path d="M640.0 100.0 L685.0 118.0" fill="none" stroke="#6ea3d3" stroke-width="1.2" opacity="1" stroke-linecap="round"/>
<path d="M558.0 112.0 L575.0 121.0 L620.0 124.0" fill="none" stroke="#6ea3d3" stroke-width="1.4" opacity="1" stroke-linecap="round"/>
<path d="M605.0 126.0 L650.0 108.0 L685.0 104.0" fill="none" stroke="#7fb2da" stroke-width="1.2" opacity="1" stroke-linecap="round"/>
<rect x="640.0" y="112.0" width="45.0" height="6.0" fill="#f7f5cc" opacity="1"/>
<ellipse cx="630.0" cy="123.5" rx="20.0" ry="2.2" fill="#fdd384" opacity="1" transform="rotate(0 630.0 123.5)"/>
<ellipse cx="636.0" cy="118.0" rx="5.0" ry="2.5" fill="#fdd88c" opacity="1" transform="rotate(0 636.0 118.0)"/>
<ellipse cx="668.0" cy="122.0" rx="14.0" ry="2.5" fill="#fbf2b8" opacity="1" transform="rotate(0 668.0 122.0)"/>
<path d="M557.0 70.0 Q620.0 68.0 686.0 63.7" fill="none" stroke="#2f3f9f" stroke-width="0.6362181433337714" opacity="0.4839705010766723" stroke-linecap="round"/>
<path d="M557.0 71.6 Q620.0 67.7 686.0 63.7" fill="none" stroke="#2f3f9f" stroke-width="0.6187478292209925" opacity="0.45841142091559645" stroke-linecap="round"/>
<path d="M557.0 59.8 Q620.0 55.5 686.0 52.4" fill="none" stroke="#2f3f9f" stroke-width="1.0134260623360192" opacity="0.38095049028741135" stroke-linecap="round"/>
<path d="M557.0 65.9 Q620.0 70.7 686.0 68.2" fill="none" stroke="#2f3f9f" stroke-width="0.8885514743087494" opacity="0.449170118662695" stroke-linecap="round"/>
<path d="M557.0 96.1 Q620.0 94.8 686.0 87.9" fill="none" stroke="#2f3f9f" stroke-width="0.7448046431658382" opacity="0.3860637708393594" stroke-linecap="round"/>
<path d="M557.0 61.7 Q620.0 62.5 686.0 58.3" fill="none" stroke="#2f3f9f" stroke-width="0.6903631899619688" opacity="0.4954000409156165" stroke-linecap="round"/>
<path d="M557.0 82.6 Q620.0 81.8 686.0 80.3" fill="none" stroke="#2f3f9f" stroke-width="0.6313944874866616" opacity="0.36490029249155814" stroke-linecap="round"/>
<path d="M557.0 65.2 Q620.0 66.3 686.0 68.5" fill="none" stroke="#2f3f9f" stroke-width="0.7570735851883957" opacity="0.49639046587690966" stroke-linecap="round"/>
<path d="M557.0 75.1 Q620.0 75.7 686.0 71.5" fill="none" stroke="#2f3f9f" stroke-width="0.9494972168647857" opacity="0.4110241276805382" stroke-linecap="round"/>
<path d="M557.0 80.7 Q620.0 84.6 686.0 81.0" fill="none" stroke="#b8dcef" stroke-width="1.2376671736635305" opacity="0.45" stroke-linecap="round"/>
<path d="M557.0 70.4 Q620.0 69.4 686.0 76.1" fill="none" stroke="#b8dcef" stroke-width="1.0508736930711362" opacity="0.45" stroke-linecap="round"/>
<path d="M557.0 87.3 Q620.0 85.1 686.0 83.1" fill="none" stroke="#b8dcef" stroke-width="0.8235243542284626" opacity="0.45" stroke-linecap="round"/>
<path d="M557.0 84.1 Q620.0 86.4 686.0 87.2" fill="none" stroke="#b8dcef" stroke-width="1.325286687098533" opacity="0.45" stroke-linecap="round"/>
<path d="M557.0 71.3 Q620.0 73.4 686.0 73.6" fill="none" stroke="#b8dcef" stroke-width="1.1479371225694952" opacity="0.45" stroke-linecap="round"/>
<path d="M580.0 111.9 Q625.0 120.0 670.0 121.8" fill="none" stroke="#6a9bd0" stroke-width="0.7324999878580474" opacity="0.6" stroke-linecap="round"/>
<path d="M600.0 119.0 Q643.0 118.7 686.0 108.0" fill="none" stroke="#6a9bd0" stroke-width="0.8422977660470745" opacity="0.6" stroke-linecap="round"/>
<path d="M557.0 110.0 Q613.5 111.4 670.0 117.4" fill="none" stroke="#6a9bd0" stroke-width="1.0054597717415383" opacity="0.6" stroke-linecap="round"/>
<path d="M580.0 112.8 Q615.0 113.1 650.0 105.7" fill="none" stroke="#6a9bd0" stroke-width="0.8989488392731163" opacity="0.6" stroke-linecap="round"/>
<path d="M557.0 123.8 Q613.5 116.8 670.0 112.9" fill="none" stroke="#6a9bd0" stroke-width="0.8389195653922252" opacity="0.6" stroke-linecap="round"/>
<path d="M600.0 103.6 Q635.0 110.7 670.0 111.2" fill="none" stroke="#6a9bd0" stroke-width="1.193233540500593" opacity="0.6" stroke-linecap="round"/>
<path d="M557.0 117.8 Q603.5 107.1 650.0 109.9" fill="none" stroke="#6a9bd0" stroke-width="0.7756491915582002" opacity="0.6" stroke-linecap="round"/></g></g>
<g clip-path="url(#cB)"><g filter="url(#ib)"><rect x="557.8" y="128.0" width="127.0" height="127.0" fill="#fdf6c2" opacity="1"/>
<path d="M555.1 135.4 Q577.3 133.1 598.4 140.7 Q575.9 145.0 555.1 135.4Z" fill="#c3dfee" stroke="none" stroke-width="1" opacity="1" stroke-linecap="round"/>
<path d="M599.3 129.8 Q618.1 133.5 640.7 143.9" fill="none" stroke="#c3dfee" stroke-width="2" opacity="1" stroke-linecap="round"/>
<path d="M589.9 130.7 Q605.0 131.6 612.5 135.4" fill="none" stroke="#c9e3ef" stroke-width="1.5" opacity="1" stroke-linecap="round"/>
<path d="M592.7 149.5 Q615.2 122.6 639.8 147.7 Q616.4 152.6 592.7 149.5Z" fill="#fdd78c" stroke="none" stroke-width="1" opacity="1" stroke-linecap="round"/>
<polygon points="557.9,143.9 591.8,151.4 578.6,169.3 557.9,170.3" fill="#fdbd6e" opacity="1"/>
<polygon points="557.9,151.4 575.8,154.2 580.1,161.8 575.8,170.1 557.9,170.6" fill="#f4804a" opacity="1"/>
<ellipse cx="563.5" cy="160.8" rx="8.0" ry="7.0" fill="#f1713f" opacity="1" transform="rotate(0 563.5 160.8)"/>
<polygon points="589.5,148.6 613.4,158.0 580.1,169.7" fill="#f5874d" opacity="1"/>
<polygon points="590.3,150.5 594.6,152.0 583.3,167.1 581.4,168.7" fill="#f9a259" opacity="0.6"/>
<path d="M580.5 168.7 Q602.5 156.3 626.6 163.7 Q604.2 172.2 580.5 168.7Z" fill="#fee6a0" stroke="none" stroke-width="1" opacity="1" stroke-linecap="round"/>
<path d="M621.9 146.7 Q636.8 146.1 638.9 160.8 Q622.7 163.0 621.9 146.7Z" fill="#fdd286" stroke="none" stroke-width="1" opacity="1" stroke-linecap="round"/>
<path d="M638.9 146.7 Q647.8 150.3 646.4 159.9 Q637.4 156.3 638.9 146.7Z" fill="#fee39c" stroke="none" stroke-width="1" opacity="1" stroke-linecap="round"/>
<path d="M653.6 162.7 Q658.2 130.5 687.8 143.9 Q679.4 169.1 653.6 162.7Z" fill="#fdc374" stroke="none" stroke-width="1" opacity="1" stroke-linecap="round"/>
<path d="M654.9 163.7 Q666.1 144.1 687.8 150.5 Q677.3 171.9 654.9 163.7Z" fill="#f58c4e" stroke="none" stroke-width="1" opacity="1" stroke-linecap="round"/>
<polygon points="557.9,171.2 612.5,168.6 646.4,166.9 685.0,170.8 685.0,194.0 650.2,194.0 631.3,185.9 612.5,182.5 584.2,176.5 557.9,174.6" fill="#9bc8e5" opacity="1"/>
<path d="M557.9 171.6 L593.7 170.1 L635.1 167.8 L685.0 171.2" fill="none" stroke="#6f9fd1" stroke-width="1.3" opacity="1" stroke-linecap="round"/>
<path d="M557.9 174.2 L593.7 177.8 L616.3 181.9 L646.4 179.7 L685.0 188.1" fill="none" stroke="#5f8fca" stroke-width="1.5" opacity="1" stroke-linecap="round"/>
<ellipse cx="615.3" cy="181.7" rx="4.0" ry="1.6" fill="#3b55ad" opacity="1" transform="rotate(0 615.3 181.7)"/>
<ellipse cx="640.7" cy="176.8" rx="20.0" ry="4.0" fill="#6fa3d3" opacity="1" transform="rotate(8 640.7 176.8)"/>
<path d="M603.1 174.0 Q619.6 170.4 636.0 174.0 Q619.6 177.6 603.1 174.0Z" fill="#fdd98e" stroke="none" stroke-width="1" opacity="1" stroke-linecap="round"/>
<path d="M643.6 171.2 Q649.5 168.7 654.9 172.1 Q649.0 174.7 643.6 171.2Z" fill="#fdd98e" stroke="none" stroke-width="1" opacity="1" stroke-linecap="round"/>
<ellipse cx="661.5" cy="180.6" rx="22.0" ry="5.0" fill="#7db1d9" opacity="1" transform="rotate(10 661.5 180.6)"/>
<polygon points="631.3,190.0 685.9,190.0 685.9,194.7 653.9,194.5 638.9,192.3" fill="#86b8dd" opacity="1"/>
<path d="M646.0 197.5 Q656.0 195.7 664.3 201.7 Q653.6 206.4 646.0 197.5Z" fill="#fdc878" stroke="none" stroke-width="1" opacity="1" stroke-linecap="round"/>
<path d="M556.0 202.1 Q580.5 204.1 597.4 224.5 Q574.8 222.0 556.0 216.0 Z" fill="#fdb562" stroke="none" stroke-width="1" opacity="1" stroke-linecap="round"/>
<polygon points="557.9,197.5 565.4,199.4 557.9,201.3" fill="#fdc273" opacity="1"/>
<path d="M567.3 205.1 Q587.4 212.2 605.9 223.0 Q581.6 224.9 567.3 205.1Z" fill="#fee19a" stroke="none" stroke-width="1" opacity="1" stroke-linecap="round"/>
<ellipse cx="607.8" cy="206.9" rx="14.0" ry="11.0" fill="#fdf7bd" opacity="1" transform="rotate(0 607.8 206.9)"/>
<polygon points="631.3,208.8 661.5,206.0 685.0,208.8 685.0,225.8 618.1,225.4 627.6,214.5" fill="#fdd98d" opacity="1"/>
<polygon points="626.6,215.8 654.9,218.2 644.5,223.9 633.2,224.8" fill="#f8994f" opacity="1"/>
<path d="M666.2 209.8 Q685.8 204.6 685.9 224.8 Q671.2 223.7 666.2 209.8Z" fill="#fdcd7e" stroke="none" stroke-width="1" opacity="1" stroke-linecap="round"/>
<path d="M601.2 224.8 Q609.5 219.7 619.1 218.2 Q614.3 232.8 601.2 224.8Z" fill="#fdd88c" stroke="none" stroke-width="1" opacity="1" stroke-linecap="round"/>
<path d="M557.9 202.2 Q584.2 199.4 596.5 196.6" fill="none" stroke="#bcdcee" stroke-width="1.5" opacity="1" stroke-linecap="round"/>
<path d="M596.5 196.6 Q612.5 193.8 638.9 201.3" fill="none" stroke="#bcdcee" stroke-width="1.5" opacity="1" stroke-linecap="round"/>
<path d="M638.9 201.3 Q631.3 210.7 621.9 217.3" fill="none" stroke="#b5d8ec" stroke-width="1.5" opacity="1" stroke-linecap="round"/>
<path d="M596.5 196.6 Q591.8 205.1 610.6 218.2" fill="none" stroke="#c3e0ef" stroke-width="1.3" opacity="1" stroke-linecap="round"/>
<polygon points="557.9,216.0 588.0,225.8 616.3,226.9 685.0,225.8 685.0,228.6 616.3,230.7 588.0,229.9 557.9,220.1" fill="#79acd7" opacity="1"/>
<ellipse cx="602.1" cy="228.6" rx="15.0" ry="2.0" fill="#3b55ad" opacity="1" transform="rotate(0 602.1 228.6)"/>
<rect x="557.8" y="230.5" width="127.0" height="25.0" fill="#c7e2ef" opacity="1"/>
<path d="M603.1 234.8 L685.0 232.6" fill="none" stroke="#6a9bd0" stroke-width="1.6" opacity="1" stroke-linecap="round"/>
<ellipse cx="571.1" cy="243.7" rx="15.0" ry="9.0" fill="#fbf7c6" opacity="1" transform="rotate(0 571.1 243.7)"/>
<ellipse cx="626.6" cy="244.6" rx="15.0" ry="9.0" fill="#f6f7d2" opacity="1" transform="rotate(0 626.6 244.6)"/>
<path d="M606.8 232.9 L609.7 242.7 L613.4 253.1" fill="none" stroke="#6a9bd0" stroke-width="2" opacity="1" stroke-linecap="round"/>
<path d="M589.0 230.5 L586.1 237.1 L584.2 242.7" fill="none" stroke="#7fb2da" stroke-width="1.6" opacity="1" stroke-linecap="round"/>
<polygon points="646.4,235.2 685.0,233.7 685.0,254.0 661.5,254.0" fill="#86b7dc" opacity="1"/>
<ellipse cx="681.2" cy="241.8" rx="6.0" ry="2.2" fill="#3d58ae" opacity="1" transform="rotate(0 681.2 241.8)"/>
<path d="M635.1 235.2 L661.5 253.1" fill="none" stroke="#6a9bd0" stroke-width="1.5" opacity="1" stroke-linecap="round"/>
<path d="M557.0 180.9 Q620.0 188.2 686.0 185.4" fill="none" stroke="#4f7fc2" stroke-width="0.8328250350498867" opacity="0.47696031826556773" stroke-linecap="round"/>
<path d="M557.0 184.1 Q620.0 180.4 686.0 176.4" fill="none" stroke="#4f7fc2" stroke-width="0.914941360108401" opacity="0.5482442181299881" stroke-linecap="round"/>
<path d="M557.0 172.3 Q620.0 170.9 686.0 179.3" fill="none" stroke="#4f7fc2" stroke-width="1.004822267183589" opacity="0.5233596206353097" stroke-linecap="round"/>
<path d="M557.0 171.0 Q620.0 188.9 686.0 195.6" fill="none" stroke="#4f7fc2" stroke-width="0.9269612667669203" opacity="0.5038906761446427" stroke-linecap="round"/>
<path d="M557.0 173.8 Q620.0 173.4 686.0 172.4" fill="none" stroke="#4f7fc2" stroke-width="0.6297755525844275" opacity="0.39755206569948226" stroke-linecap="round"/>
<path d="M557.0 175.8 Q620.0 173.8 686.0 172.7" fill="none" stroke="#4f7fc2" stroke-width="0.8202655583283285" opacity="0.560606782129633" stroke-linecap="round"/>
<path d="M557.0 182.5 Q620.0 184.9 686.0 187.4" fill="none" stroke="#4f7fc2" stroke-width="0.9312247659451841" opacity="0.4643324703998894" stroke-linecap="round"/>
<path d="M557.0 176.7 Q620.0 192.3 686.0 195.9" fill="none" stroke="#4f7fc2" stroke-width="1.0201077747464309" opacity="0.5269524053744874" stroke-linecap="round"/>
<path d="M600.0 169.1 Q620.7 163.6 641.5 155.6" fill="none" stroke="#9cc8e4" stroke-width="0.8755488409122815" opacity="0.55" stroke-linecap="round"/>
<path d="M557.0 143.4 Q601.0 145.1 644.9 132.9" fill="none" stroke="#9cc8e4" stroke-width="0.8003814559388993" opacity="0.55" stroke-linecap="round"/>
<path d="M620.0 156.0 Q649.4 170.4 678.8 176.5" fill="none" stroke="#9cc8e4" stroke-width="1.0938539806837353" opacity="0.55" stroke-linecap="round"/>
<path d="M600.0 200.2 Q628.4 188.9 656.8 185.1" fill="none" stroke="#9cc8e4" stroke-width="0.8106046577904623" opacity="0.55" stroke-linecap="round"/>
<path d="M575.0 180.8 Q601.2 183.4 627.3 202.0" fill="none" stroke="#9cc8e4" stroke-width="0.8419253820587538" opacity="0.55" stroke-linecap="round"/>
<path d="M575.0 228.8 Q606.2 214.6 637.4 212.7" fill="none" stroke="#9cc8e4" stroke-width="1.3123259510000453" opacity="0.55" stroke-linecap="round"/>
<path d="M557.0 146.2 Q586.9 159.6 616.7 153.4" fill="none" stroke="#9cc8e4" stroke-width="0.800329635954324" opacity="0.55" stroke-linecap="round"/>
<path d="M600.0 237.2 Q644.9 239.4 689.9 260.9" fill="none" stroke="#9cc8e4" stroke-width="0.9311151525079626" opacity="0.55" stroke-linecap="round"/>
<path d="M557.0 253.5 Q578.1 249.0 599.1 258.6" fill="none" stroke="#9cc8e4" stroke-width="1.1090791767894796" opacity="0.55" stroke-linecap="round"/>
<path d="M600.0 131.2 Q629.7 125.4 659.3 136.7" fill="none" stroke="#9cc8e4" stroke-width="0.9461133167737302" opacity="0.55" stroke-linecap="round"/>
<path d="M557.0 244.6 Q620.0 234.9 686.0 228.4" fill="none" stroke="#5f8fca" stroke-width="1.011074616213173" opacity="0.5" stroke-linecap="round"/>
<path d="M557.0 231.3 Q620.0 241.3 686.0 243.3" fill="none" stroke="#5f8fca" stroke-width="0.7678689772878797" opacity="0.5" stroke-linecap="round"/>
<path d="M557.0 238.0 Q620.0 238.9 686.0 244.3" fill="none" stroke="#5f8fca" stroke-width="0.8141916841931713" opacity="0.5" stroke-linecap="round"/>
<path d="M557.0 243.9 Q620.0 241.3 686.0 246.9" fill="none" stroke="#5f8fca" stroke-width="1.0144886379704061" opacity="0.5" stroke-linecap="round"/>
<path d="M557.0 242.4 Q620.0 242.8 686.0 245.9" fill="none" stroke="#5f8fca" stroke-width="0.941258105648809" opacity="0.5" stroke-linecap="round"/>
<path d="M557.0 230.0 Q620.0 224.9 686.0 229.2" fill="none" stroke="#5f8fca" stroke-width="0.9561779132585283" opacity="0.5" stroke-linecap="round"/></g></g>
<g clip-path="url(#cC)"><g filter="url(#ib)"><rect x="557.8" y="255.0" width="127.0" height="127.0" fill="#fedf98" opacity="1"/>
<polygon points="556.0,254.0 635.1,254.0 631.3,269.1 593.7,270.6 556.0,268.7" fill="#f9a058" opacity="1"/>
<path d="M631.3 269.1 Q644.5 257.8 657.7 256.8 L657.7 254.0 L631.3 254.0 Z" fill="#f9a058" stroke="none" stroke-width="1" opacity="1" stroke-linecap="round"/>
<polygon points="556.0,274.3 591.8,277.0 584.2,291.7 567.3,304.8 556.0,310.5" fill="#f58b4e" opacity="1"/>
<path d="M556.0 274.3 Q578.6 272.8 592.7 277.5 L580.5 301.1 L556.0 310.5 Z" fill="#f58b4e" stroke="none" stroke-width="1" opacity="1" stroke-linecap="round"/>
<path d="M592.7 277.5 Q608.7 277.5 622.3 282.2 Q612.5 291.7 604.0 294.9 Q596.5 287.9 592.7 277.5Z" fill="#f27a49" stroke="none" stroke-width="1" opacity="1" stroke-linecap="round"/>
<path d="M591.8 278.5 Q588.0 291.7 580.5 301.1 Q593.7 299.2 604.6 295.8 Q594.6 287.9 591.8 278.5Z" fill="#fdd88c" stroke="none" stroke-width="1" opacity="1" stroke-linecap="round"/>
<path d="M622.3 282.2 Q640.7 286.0 651.1 298.8 Q631.3 305.8 606.5 296.9 Q616.3 289.8 622.3 282.2Z" fill="#fdc777" stroke="none" stroke-width="1" opacity="1" stroke-linecap="round"/>
<path d="M633.2 269.1 Q653.9 274.7 661.5 288.8 Q653.9 296.4 651.1 298.8 Q644.5 282.2 633.2 269.1Z" fill="#fee9aa" stroke="none" stroke-width="1" opacity="1" stroke-linecap="round"/>
<polygon points="665.2,257.8 685.9,257.8 685.9,284.1 670.9,287.5 662.4,276.6" fill="#fdd68a" opacity="1"/>
<polygon points="675.0,284.1 685.9,282.2 685.9,289.4 676.5,288.3" fill="#f58b4e" opacity="1"/>
<polygon points="556.0,269.1 631.3,269.1 621.9,282.2 592.7,277.0 556.0,274.3" fill="#fee9aa" opacity="1"/>
<path d="M556.0 271.9 Q593.7 272.8 631.3 269.4" fill="none" stroke="#fff1bf" stroke-width="5.4" opacity="0.5" stroke-linecap="round"/>
<path d="M556.0 271.3 Q574.8 272.5 593.7 272.3" fill="none" stroke="#fff1bf" stroke-width="4.8" opacity="0.5" stroke-linecap="round"/>
<path d="M580.5 301.1 Q593.7 299.2 605.0 296.2 Q620.0 303.3 637.0 304.1 Q646.4 303.3 654.3 300.3" fill="none" stroke="#fff1bf" stroke-width="5.2" opacity="0.5" stroke-linecap="round"/>
<path d="M599.3 297.7 Q605.0 295.8 610.6 298.8" fill="none" stroke="#fff1bf" stroke-width="6.2" opacity="0.5" stroke-linecap="round"/>
<path d="M651.1 300.1 Q658.6 294.5 666.2 288.8" fill="none" stroke="#fff1bf" stroke-width="8.7" opacity="0.5" stroke-linecap="round"/>
<path d="M666.2 288.8 Q676.5 286.4 685.9 285.6" fill="none" stroke="#fff1bf" stroke-width="4.8" opacity="0.5" stroke-linecap="round"/>
<path d="M622.3 282.2 Q627.6 274.7 632.3 268.7 Q631.7 264.4 631.3 260.6" fill="none" stroke="#fff1bf" stroke-width="4.6" opacity="0.5" stroke-linecap="round"/>
<path d="M632.3 268.7 Q650.2 276.6 662.4 287.9" fill="none" stroke="#fff1bf" stroke-width="4.6" opacity="0.5" stroke-linecap="round"/>
<path d="M657.7 256.8 Q660.0 260.6 660.5 265.3" fill="none" stroke="#fff1bf" stroke-width="4.6" opacity="0.5" stroke-linecap="round"/>
<path d="M653.9 256.3 Q659.6 258.1 666.2 256.3" fill="none" stroke="#fff1bf" stroke-width="5.2" opacity="0.5" stroke-linecap="round"/>
<path d="M654.3 300.3 Q654.7 304.8 655.1 309.0" fill="none" stroke="#fff1bf" stroke-width="4.4" opacity="0.5" stroke-linecap="round"/>
<path d="M556.0 313.9 Q567.3 315.8 580.5 316.1" fill="none" stroke="#fff1bf" stroke-width="4.6" opacity="0.5" stroke-linecap="round"/>
<path d="M556.0 358.5 Q578.6 354.7 598.6 345.9" fill="none" stroke="#fff1bf" stroke-width="4.8" opacity="0.5" stroke-linecap="round"/>
<path d="M598.6 345.9 Q598.9 349.1 599.3 351.9" fill="none" stroke="#fff1bf" stroke-width="4.6" opacity="0.5" stroke-linecap="round"/>
<path d="M618.1 327.0 Q617.8 323.6 617.6 320.6" fill="none" stroke="#fff1bf" stroke-width="4.2" opacity="0.5" stroke-linecap="round"/>
<path d="M618.1 327.0 Q627.6 325.9 637.0 326.5" fill="none" stroke="#fff1bf" stroke-width="4.1" opacity="0.5" stroke-linecap="round"/>
<path d="M662.4 353.0 Q674.6 353.8 685.9 353.8" fill="none" stroke="#fff1bf" stroke-width="5.2" opacity="0.5" stroke-linecap="round"/>
<path d="M650.2 351.0 Q657.7 352.8 662.4 353.0" fill="none" stroke="#fff1bf" stroke-width="4.6" opacity="0.5" stroke-linecap="round"/>
<path d="M624.7 374.5 Q624.9 378.3 625.3 383.0" fill="none" stroke="#fff1bf" stroke-width="5.0" opacity="0.5" stroke-linecap="round"/>
<path d="M635.5 319.5 Q635.7 321.8 636.0 324.0" fill="none" stroke="#fff1bf" stroke-width="4.1" opacity="0.5" stroke-linecap="round"/>
<path d="M556.0 271.9 Q593.7 272.8 631.3 269.4" fill="none" stroke="#b3d8ec" stroke-width="2.2" opacity="1" stroke-linecap="round"/>
<path d="M556.0 271.3 Q574.8 272.5 593.7 272.3" fill="none" stroke="#9ccbe6" stroke-width="1.6" opacity="1" stroke-linecap="round"/>
<path d="M580.5 301.1 Q593.7 299.2 605.0 296.2 Q620.0 303.3 637.0 304.1 Q646.4 303.3 654.3 300.3" fill="none" stroke="#d9ecf0" stroke-width="2.0" opacity="1" stroke-linecap="round"/>
<path d="M599.3 297.7 Q605.0 295.8 610.6 298.8" fill="none" stroke="#b3d8ec" stroke-width="3.0" opacity="1" stroke-linecap="round"/>
<path d="M651.1 300.1 Q658.6 294.5 666.2 288.8" fill="none" stroke="#9ccbe6" stroke-width="5.5" opacity="1" stroke-linecap="round"/>
<path d="M666.2 288.8 Q676.5 286.4 685.9 285.6" fill="none" stroke="#d9ecf0" stroke-width="1.6" opacity="1" stroke-linecap="round"/>
<path d="M622.3 282.2 Q627.6 274.7 632.3 268.7 Q631.7 264.4 631.3 260.6" fill="none" stroke="#d9ecf0" stroke-width="1.4" opacity="1" stroke-linecap="round"/>
<path d="M632.3 268.7 Q650.2 276.6 662.4 287.9" fill="none" stroke="#d9ecf0" stroke-width="1.4" opacity="1" stroke-linecap="round"/>
<path d="M657.7 256.8 Q660.0 260.6 660.5 265.3" fill="none" stroke="#d9ecf0" stroke-width="1.4" opacity="1" stroke-linecap="round"/>
<path d="M653.9 256.3 Q659.6 258.1 666.2 256.3" fill="none" stroke="#b3d8ec" stroke-width="2.0" opacity="1" stroke-linecap="round"/>
<path d="M654.3 300.3 Q654.7 304.8 655.1 309.0" fill="none" stroke="#d9ecf0" stroke-width="1.2" opacity="1" stroke-linecap="round"/>
<path d="M654.3 300.3 Q644.5 310.5 636.0 318.0" fill="none" stroke="#fff3c0" stroke-width="1.0" opacity="1" stroke-linecap="round"/>
<ellipse cx="562.6" cy="314.6" rx="6.0" ry="2.6" fill="#b3d8ec" opacity="1" transform="rotate(0 562.6 314.6)"/>
<path d="M556.0 313.9 Q567.3 315.8 580.5 316.1" fill="none" stroke="#d9ecf0" stroke-width="1.4" opacity="1" stroke-linecap="round"/>
<path d="M556.0 322.1 Q580.5 327.4 598.6 345.3 Q578.6 351.0 556.0 355.1Z" fill="#f58b4e" stroke="none" stroke-width="1" opacity="1" stroke-linecap="round"/>
<path d="M621.0 328.4 Q646.4 325.5 667.5 346.2 Q667.1 350.0 666.2 352.3 Q640.7 346.2 621.0 328.4Z" fill="#f68d50" stroke="none" stroke-width="1" opacity="1" stroke-linecap="round"/>
<path d="M556.0 360.4 Q593.7 362.3 621.0 381.1 L556.0 383.0 Z" fill="#f79555" stroke="none" stroke-width="1" opacity="1" stroke-linecap="round"/>
<path d="M628.5 381.1 Q644.5 363.2 663.3 354.7 Q676.5 354.2 685.9 354.9 L685.9 383.0 L628.5 383.0 Z" fill="#f79555" stroke="none" stroke-width="1" opacity="1" stroke-linecap="round"/>
<polygon points="668.2,346.2 676.5,333.1 685.9,327.4 685.9,353.0 668.6,352.7" fill="#f9a058" opacity="1"/>
<path d="M668.2 346.2 Q670.9 334.9 685.9 326.5 L685.9 318.0 L661.5 318.0 Z" fill="#fedf98" stroke="none" stroke-width="1" opacity="1" stroke-linecap="round"/>
<ellipse cx="629.4" cy="353.8" rx="22.0" ry="14.0" fill="#fee9aa" opacity="0.6" transform="rotate(0 629.4 353.8)"/>
<path d="M556.0 358.5 Q578.6 354.7 598.6 345.9" fill="none" stroke="#d9ecf0" stroke-width="1.6" opacity="1" stroke-linecap="round"/>
<path d="M598.6 345.9 Q598.9 349.1 599.3 351.9" fill="none" stroke="#b3d8ec" stroke-width="1.4" opacity="1" stroke-linecap="round"/>
<path d="M598.6 345.9 Q610.6 336.8 618.1 327.0" fill="none" stroke="#fff3c0" stroke-width="1.2" opacity="1" stroke-linecap="round"/>
<path d="M618.1 327.0 Q617.8 323.6 617.6 320.6" fill="none" stroke="#d9ecf0" stroke-width="1.0" opacity="1" stroke-linecap="round"/>
<path d="M618.1 327.0 Q627.6 325.9 637.0 326.5" fill="none" stroke="#d9ecf0" stroke-width="0.9" opacity="1" stroke-linecap="round"/>
<path d="M662.4 353.0 Q674.6 353.8 685.9 353.8" fill="none" stroke="#9ccbe6" stroke-width="2.0" opacity="1" stroke-linecap="round"/>
<path d="M650.2 351.0 Q657.7 352.8 662.4 353.0" fill="none" stroke="#d9ecf0" stroke-width="1.4" opacity="1" stroke-linecap="round"/>
<path d="M624.7 374.5 Q624.9 378.3 625.3 383.0" fill="none" stroke="#b3d8ec" stroke-width="1.8" opacity="1" stroke-linecap="round"/>
<path d="M667.9 342.5 Q668.1 348.1 668.2 352.7" fill="none" stroke="#fff3c0" stroke-width="1.0" opacity="1" stroke-linecap="round"/>
<path d="M635.5 319.5 Q635.7 321.8 636.0 324.0" fill="none" stroke="#d9ecf0" stroke-width="0.9" opacity="1" stroke-linecap="round"/></g></g>
<g clip-path="url(#cD)"><rect x="557.8" y="382" width="127" height="128" fill="#fef3b6"/><rect x="557.8" y="382" width="127" height="128" fill="url(#gD1)"/><rect x="557.8" y="382" width="127" height="128" fill="url(#gD2)"/><g filter="url(#ibD1)"><ellipse cx="664.0" cy="431.0" rx="52.0" ry="27.0" fill="#e3f1e6" opacity="0.9" transform="rotate(-8 664.0 431.0)"/>
<ellipse cx="668.0" cy="430.0" rx="40.0" ry="20.0" fill="#c4e1ee" opacity="0.9" transform="rotate(-6 668.0 430.0)"/></g><g filter="url(#ibD2)"><ellipse cx="670.0" cy="429.0" rx="28.0" ry="14.0" fill="#9ccae5" opacity="0.95" transform="rotate(-6 670.0 429.0)"/>
<ellipse cx="673.0" cy="428.0" rx="19.0" ry="10.0" fill="#6fa6d4" opacity="1" transform="rotate(-4 673.0 428.0)"/>
<ellipse cx="673.6" cy="391.0" rx="8.5" ry="6.5" fill="#cfe6ee" opacity="0.9" transform="rotate(0 673.6 391.0)"/>
<ellipse cx="673.8" cy="391.0" rx="5.5" ry="4.2" fill="#9cc8e4" opacity="1" transform="rotate(0 673.8 391.0)"/></g><g filter="url(#ibD3)"><path d="M662.5 424 Q666 419.5 671 422.5 Q674 424.5 675 424 Q678 420 686 420.5 L686 429 Q680 433.5 675.5 434.8 Q670 433 667 429.5 Q663.5 427 662.5 424Z" fill="#3a3f9c" stroke="none" stroke-width="1" opacity="1" stroke-linecap="round"/>
<path d="M670.2 389.5 Q672 388 673.6 390 Q675.2 388 677 389.5 Q676.5 392.5 673.6 394 Q670.8 392.5 670.2 389.5Z" fill="#3d45a2" stroke="none" stroke-width="1" opacity="1" stroke-linecap="round"/></g></g>
<line x1="557.8" x2="685" y1="127.9" y2="127.9" stroke="#2b2620" stroke-width="1.5"/>
<line x1="557.8" x2="685" y1="255.1" y2="255.1" stroke="#2b2620" stroke-width="1.5"/>
<line x1="557.8" x2="685" y1="382.0" y2="382.0" stroke="#2b2620" stroke-width="1.5"/>
<line x1="556.8" x2="685" y1="0.6" y2="0.6" stroke="#a4a4a4" stroke-width="1.2"/>
<line x1="556.8" x2="685" y1="510.1" y2="510.1" stroke="#8c8c8c" stroke-width="1.2"/>
<line x1="557.3" x2="557.3" y1="0" y2="510.7" stroke="#8e8e8e" stroke-width="1.1"/>
<line x1="558.4" x2="558.4" y1="1.2" y2="509.5" stroke="#f4f4ee" stroke-width="0.8" opacity="0.55"/>
<line x1="684.6" x2="684.6" y1="0" y2="510.7" stroke="#111" stroke-width="1.0"/><g filter="url(#idf)"><polygon points="629.9,64.4 617.2,63.1 617.3,61.9 611.6,63.6 616.8,66.4 617.0,65.1 629.7,66.4" fill="#000"/><polygon points="613.7,195.9 625.3,191.3 625.8,192.5 630.0,188.3 624.0,188.2 624.5,189.4 612.9,194.1" fill="#000"/><polygon points="629.3,321.8 617.8,315.3 618.4,314.2 612.5,313.5 616.2,318.2 616.8,317.1 628.3,323.6" fill="#000"/><polygon points="630.1,445.1 617.4,444.5 617.5,443.2 611.9,445.3 617.3,447.8 617.4,446.5 630.1,447.1" fill="#000"/>
<rect x="580" y="498.6" width="37.4" height="2.4" fill="#000"/>
<text x="586" y="492.6" font-size="24.5" font-style="italic" fill="#000" text-rendering="geometricPrecision">R</text>
<text x="601.6" y="496.4" font-size="17" fill="#000" text-rendering="geometricPrecision">E</text>
</g>

</g>
<g id="plain" filter="url(#idf)">
<text x="65.0" y="29.3" font-size="21.5" fill="#000" stroke="#000" stroke-width="0.25" text-rendering="geometricPrecision" textLength="16.2" lengthAdjust="spacingAndGlyphs">A</text>
<text x="65.0" y="283.4" font-size="21.5" fill="#000" stroke="#000" stroke-width="0.25" text-rendering="geometricPrecision" textLength="15.6" lengthAdjust="spacingAndGlyphs">C</text>
<text x="65.0" y="410.2" font-size="21.5" fill="#000" stroke="#000" stroke-width="0.25" text-rendering="geometricPrecision" textLength="15.6" lengthAdjust="spacingAndGlyphs">D</text>
</g>
<g id="ink" filter="url(#fr)">
<line x1="54.50" y1="1.00" x2="550.50" y2="1.00" stroke="#000" stroke-width="0.7"/>
<line x1="54.50" y1="128.00" x2="550.50" y2="128.00" stroke="#000" stroke-width="1.45"/>
<line x1="54.50" y1="254.50" x2="550.50" y2="254.50" stroke="#000" stroke-width="1.45"/>
<line x1="54.50" y1="382.00" x2="550.50" y2="382.00" stroke="#000" stroke-width="1.45"/>
<line x1="54.50" y1="510.00" x2="550.50" y2="510.00" stroke="#000" stroke-width="0.8"/>
<line x1="55.00" y1="1.00" x2="55.00" y2="510.00" stroke="#000" stroke-width="1.4"/>
<line x1="550.00" y1="1.00" x2="550.00" y2="510.00" stroke="#000" stroke-width="1.4"/>
<line x1="55.00" y1="1.00" x2="55.00" y2="9.50" stroke="#000" stroke-width="1.4"/>
<line x1="55.00" y1="119.50" x2="55.00" y2="128.00" stroke="#000" stroke-width="1.4"/>
<line x1="55.00" y1="128.00" x2="55.00" y2="136.50" stroke="#000" stroke-width="1.4"/>
<line x1="55.00" y1="246.00" x2="55.00" y2="254.50" stroke="#000" stroke-width="1.4"/>
<line x1="55.00" y1="254.50" x2="55.00" y2="263.00" stroke="#000" stroke-width="1.4"/>
<line x1="55.00" y1="373.50" x2="55.00" y2="382.00" stroke="#000" stroke-width="1.4"/>
<line x1="55.00" y1="382.00" x2="55.00" y2="390.50" stroke="#000" stroke-width="1.4"/>
<line x1="55.00" y1="501.50" x2="55.00" y2="510.00" stroke="#000" stroke-width="1.4"/>
<line x1="75.82" y1="1.00" x2="75.82" y2="5.20" stroke="#000" stroke-width="1.4"/>
<line x1="75.82" y1="123.80" x2="75.82" y2="128.00" stroke="#000" stroke-width="1.4"/>
<line x1="75.82" y1="128.00" x2="75.82" y2="132.20" stroke="#000" stroke-width="1.4"/>
<line x1="75.82" y1="250.30" x2="75.82" y2="254.50" stroke="#000" stroke-width="1.4"/>
<line x1="75.82" y1="254.50" x2="75.82" y2="258.70" stroke="#000" stroke-width="1.4"/>
<line x1="75.82" y1="377.80" x2="75.82" y2="382.00" stroke="#000" stroke-width="1.4"/>
<line x1="75.82" y1="382.00" x2="75.82" y2="386.20" stroke="#000" stroke-width="1.4"/>
<line x1="75.82" y1="505.80" x2="75.82" y2="510.00" stroke="#000" stroke-width="1.4"/>
<line x1="96.64" y1="1.00" x2="96.64" y2="5.20" stroke="#000" stroke-width="1.4"/>
<line x1="96.64" y1="123.80" x2="96.64" y2="128.00" stroke="#000" stroke-width="1.4"/>
<line x1="96.64" y1="128.00" x2="96.64" y2="132.20" stroke="#000" stroke-width="1.4"/>
<line x1="96.64" y1="250.30" x2="96.64" y2="254.50" stroke="#000" stroke-width="1.4"/>
<line x1="96.64" y1="254.50" x2="96.64" y2="258.70" stroke="#000" stroke-width="1.4"/>
<line x1="96.64" y1="377.80" x2="96.64" y2="382.00" stroke="#000" stroke-width="1.4"/>
<line x1="96.64" y1="382.00" x2="96.64" y2="386.20" stroke="#000" stroke-width="1.4"/>
<line x1="96.64" y1="505.80" x2="96.64" y2="510.00" stroke="#000" stroke-width="1.4"/>
<line x1="117.46" y1="1.00" x2="117.46" y2="5.20" stroke="#000" stroke-width="1.4"/>
<line x1="117.46" y1="123.80" x2="117.46" y2="128.00" stroke="#000" stroke-width="1.4"/>
<line x1="117.46" y1="128.00" x2="117.46" y2="132.20" stroke="#000" stroke-width="1.4"/>
<line x1="117.46" y1="250.30" x2="117.46" y2="254.50" stroke="#000" stroke-width="1.4"/>
<line x1="117.46" y1="254.50" x2="117.46" y2="258.70" stroke="#000" stroke-width="1.4"/>
<line x1="117.46" y1="377.80" x2="117.46" y2="382.00" stroke="#000" stroke-width="1.4"/>
<line x1="117.46" y1="382.00" x2="117.46" y2="386.20" stroke="#000" stroke-width="1.4"/>
<line x1="117.46" y1="505.80" x2="117.46" y2="510.00" stroke="#000" stroke-width="1.4"/>
<line x1="138.28" y1="1.00" x2="138.28" y2="5.20" stroke="#000" stroke-width="1.4"/>
<line x1="138.28" y1="123.80" x2="138.28" y2="128.00" stroke="#000" stroke-width="1.4"/>
<line x1="138.28" y1="128.00" x2="138.28" y2="132.20" stroke="#000" stroke-width="1.4"/>
<line x1="138.28" y1="250.30" x2="138.28" y2="254.50" stroke="#000" stroke-width="1.4"/>
<line x1="138.28" y1="254.50" x2="138.28" y2="258.70" stroke="#000" stroke-width="1.4"/>
<line x1="138.28" y1="377.80" x2="138.28" y2="382.00" stroke="#000" stroke-width="1.4"/>
<line x1="138.28" y1="382.00" x2="138.28" y2="386.20" stroke="#000" stroke-width="1.4"/>
<line x1="138.28" y1="505.80" x2="138.28" y2="510.00" stroke="#000" stroke-width="1.4"/>
<line x1="159.10" y1="1.00" x2="159.10" y2="9.50" stroke="#000" stroke-width="1.4"/>
<line x1="159.10" y1="119.50" x2="159.10" y2="128.00" stroke="#000" stroke-width="1.4"/>
<line x1="159.10" y1="128.00" x2="159.10" y2="136.50" stroke="#000" stroke-width="1.4"/>
<line x1="159.10" y1="246.00" x2="159.10" y2="254.50" stroke="#000" stroke-width="1.4"/>
<line x1="159.10" y1="254.50" x2="159.10" y2="263.00" stroke="#000" stroke-width="1.4"/>
<line x1="159.10" y1="373.50" x2="159.10" y2="382.00" stroke="#000" stroke-width="1.4"/>
<line x1="159.10" y1="382.00" x2="159.10" y2="390.50" stroke="#000" stroke-width="1.4"/>
<line x1="159.10" y1="501.50" x2="159.10" y2="510.00" stroke="#000" stroke-width="1.4"/>
<line x1="179.92" y1="1.00" x2="179.92" y2="5.20" stroke="#000" stroke-width="1.4"/>
<line x1="179.92" y1="123.80" x2="179.92" y2="128.00" stroke="#000" stroke-width="1.4"/>
<line x1="179.92" y1="128.00" x2="179.92" y2="132.20" stroke="#000" stroke-width="1.4"/>
<line x1="179.92" y1="250.30" x2="179.92" y2="254.50" stroke="#000" stroke-width="1.4"/>
<line x1="179.92" y1="254.50" x2="179.92" y2="258.70" stroke="#000" stroke-width="1.4"/>
<line x1="179.92" y1="377.80" x2="179.92" y2="382.00" stroke="#000" stroke-width="1.4"/>
<line x1="179.92" y1="382.00" x2="179.92" y2="386.20" stroke="#000" stroke-width="1.4"/>
<line x1="179.92" y1="505.80" x2="179.92" y2="510.00" stroke="#000" stroke-width="1.4"/>
<line x1="200.74" y1="1.00" x2="200.74" y2="5.20" stroke="#000" stroke-width="1.4"/>
<line x1="200.74" y1="123.80" x2="200.74" y2="128.00" stroke="#000" stroke-width="1.4"/>
<line x1="200.74" y1="128.00" x2="200.74" y2="132.20" stroke="#000" stroke-width="1.4"/>
<line x1="200.74" y1="250.30" x2="200.74" y2="254.50" stroke="#000" stroke-width="1.4"/>
<line x1="200.74" y1="254.50" x2="200.74" y2="258.70" stroke="#000" stroke-width="1.4"/>
<line x1="200.74" y1="377.80" x2="200.74" y2="382.00" stroke="#000" stroke-width="1.4"/>
<line x1="200.74" y1="382.00" x2="200.74" y2="386.20" stroke="#000" stroke-width="1.4"/>
<line x1="200.74" y1="505.80" x2="200.74" y2="510.00" stroke="#000" stroke-width="1.4"/>
<line x1="221.56" y1="1.00" x2="221.56" y2="5.20" stroke="#000" stroke-width="1.4"/>
<line x1="221.56" y1="123.80" x2="221.56" y2="128.00" stroke="#000" stroke-width="1.4"/>
<line x1="221.56" y1="128.00" x2="221.56" y2="132.20" stroke="#000" stroke-width="1.4"/>
<line x1="221.56" y1="250.30" x2="221.56" y2="254.50" stroke="#000" stroke-width="1.4"/>
<line x1="221.56" y1="254.50" x2="221.56" y2="258.70" stroke="#000" stroke-width="1.4"/>
<line x1="221.56" y1="377.80" x2="221.56" y2="382.00" stroke="#000" stroke-width="1.4"/>
<line x1="221.56" y1="382.00" x2="221.56" y2="386.20" stroke="#000" stroke-width="1.4"/>
<line x1="221.56" y1="505.80" x2="221.56" y2="510.00" stroke="#000" stroke-width="1.4"/>
<line x1="242.38" y1="1.00" x2="242.38" y2="5.20" stroke="#000" stroke-width="1.4"/>
<line x1="242.38" y1="123.80" x2="242.38" y2="128.00" stroke="#000" stroke-width="1.4"/>
<line x1="242.38" y1="128.00" x2="242.38" y2="132.20" stroke="#000" stroke-width="1.4"/>
<line x1="242.38" y1="250.30" x2="242.38" y2="254.50" stroke="#000" stroke-width="1.4"/>
<line x1="242.38" y1="254.50" x2="242.38" y2="258.70" stroke="#000" stroke-width="1.4"/>
<line x1="242.38" y1="377.80" x2="242.38" y2="382.00" stroke="#000" stroke-width="1.4"/>
<line x1="242.38" y1="382.00" x2="242.38" y2="386.20" stroke="#000" stroke-width="1.4"/>
<line x1="242.38" y1="505.80" x2="242.38" y2="510.00" stroke="#000" stroke-width="1.4"/>
<line x1="263.20" y1="1.00" x2="263.20" y2="9.50" stroke="#000" stroke-width="1.4"/>
<line x1="263.20" y1="119.50" x2="263.20" y2="128.00" stroke="#000" stroke-width="1.4"/>
<line x1="263.20" y1="128.00" x2="263.20" y2="136.50" stroke="#000" stroke-width="1.4"/>
<line x1="263.20" y1="246.00" x2="263.20" y2="254.50" stroke="#000" stroke-width="1.4"/>
<line x1="263.20" y1="254.50" x2="263.20" y2="263.00" stroke="#000" stroke-width="1.4"/>
<line x1="263.20" y1="373.50" x2="263.20" y2="382.00" stroke="#000" stroke-width="1.4"/>
<line x1="263.20" y1="382.00" x2="263.20" y2="390.50" stroke="#000" stroke-width="1.4"/>
<line x1="263.20" y1="501.50" x2="263.20" y2="510.00" stroke="#000" stroke-width="1.4"/>
<line x1="284.02" y1="1.00" x2="284.02" y2="5.20" stroke="#000" stroke-width="1.4"/>
<line x1="284.02" y1="123.80" x2="284.02" y2="128.00" stroke="#000" stroke-width="1.4"/>
<line x1="284.02" y1="128.00" x2="284.02" y2="132.20" stroke="#000" stroke-width="1.4"/>
<line x1="284.02" y1="250.30" x2="284.02" y2="254.50" stroke="#000" stroke-width="1.4"/>
<line x1="284.02" y1="254.50" x2="284.02" y2="258.70" stroke="#000" stroke-width="1.4"/>
<line x1="284.02" y1="377.80" x2="284.02" y2="382.00" stroke="#000" stroke-width="1.4"/>
<line x1="284.02" y1="382.00" x2="284.02" y2="386.20" stroke="#000" stroke-width="1.4"/>
<line x1="284.02" y1="505.80" x2="284.02" y2="510.00" stroke="#000" stroke-width="1.4"/>
<line x1="304.84" y1="1.00" x2="304.84" y2="5.20" stroke="#000" stroke-width="1.4"/>
<line x1="304.84" y1="123.80" x2="304.84" y2="128.00" stroke="#000" stroke-width="1.4"/>
<line x1="304.84" y1="128.00" x2="304.84" y2="132.20" stroke="#000" stroke-width="1.4"/>
<line x1="304.84" y1="250.30" x2="304.84" y2="254.50" stroke="#000" stroke-width="1.4"/>
<line x1="304.84" y1="254.50" x2="304.84" y2="258.70" stroke="#000" stroke-width="1.4"/>
<line x1="304.84" y1="377.80" x2="304.84" y2="382.00" stroke="#000" stroke-width="1.4"/>
<line x1="304.84" y1="382.00" x2="304.84" y2="386.20" stroke="#000" stroke-width="1.4"/>
<line x1="304.84" y1="505.80" x2="304.84" y2="510.00" stroke="#000" stroke-width="1.4"/>
<line x1="325.66" y1="1.00" x2="325.66" y2="5.20" stroke="#000" stroke-width="1.4"/>
<line x1="325.66" y1="123.80" x2="325.66" y2="128.00" stroke="#000" stroke-width="1.4"/>
<line x1="325.66" y1="128.00" x2="325.66" y2="132.20" stroke="#000" stroke-width="1.4"/>
<line x1="325.66" y1="250.30" x2="325.66" y2="254.50" stroke="#000" stroke-width="1.4"/>
<line x1="325.66" y1="254.50" x2="325.66" y2="258.70" stroke="#000" stroke-width="1.4"/>
<line x1="325.66" y1="377.80" x2="325.66" y2="382.00" stroke="#000" stroke-width="1.4"/>
<line x1="325.66" y1="382.00" x2="325.66" y2="386.20" stroke="#000" stroke-width="1.4"/>
<line x1="325.66" y1="505.80" x2="325.66" y2="510.00" stroke="#000" stroke-width="1.4"/>
<line x1="346.48" y1="1.00" x2="346.48" y2="5.20" stroke="#000" stroke-width="1.4"/>
<line x1="346.48" y1="123.80" x2="346.48" y2="128.00" stroke="#000" stroke-width="1.4"/>
<line x1="346.48" y1="128.00" x2="346.48" y2="132.20" stroke="#000" stroke-width="1.4"/>
<line x1="346.48" y1="250.30" x2="346.48" y2="254.50" stroke="#000" stroke-width="1.4"/>
<line x1="346.48" y1="254.50" x2="346.48" y2="258.70" stroke="#000" stroke-width="1.4"/>
<line x1="346.48" y1="377.80" x2="346.48" y2="382.00" stroke="#000" stroke-width="1.4"/>
<line x1="346.48" y1="382.00" x2="346.48" y2="386.20" stroke="#000" stroke-width="1.4"/>
<line x1="346.48" y1="505.80" x2="346.48" y2="510.00" stroke="#000" stroke-width="1.4"/>
<line x1="367.30" y1="1.00" x2="367.30" y2="9.50" stroke="#000" stroke-width="1.4"/>
<line x1="367.30" y1="119.50" x2="367.30" y2="128.00" stroke="#000" stroke-width="1.4"/>
<line x1="367.30" y1="128.00" x2="367.30" y2="136.50" stroke="#000" stroke-width="1.4"/>
<line x1="367.30" y1="246.00" x2="367.30" y2="254.50" stroke="#000" stroke-width="1.4"/>
<line x1="367.30" y1="254.50" x2="367.30" y2="263.00" stroke="#000" stroke-width="1.4"/>
<line x1="367.30" y1="373.50" x2="367.30" y2="382.00" stroke="#000" stroke-width="1.4"/>
<line x1="367.30" y1="382.00" x2="367.30" y2="390.50" stroke="#000" stroke-width="1.4"/>
<line x1="367.30" y1="501.50" x2="367.30" y2="510.00" stroke="#000" stroke-width="1.4"/>
<line x1="388.12" y1="1.00" x2="388.12" y2="5.20" stroke="#000" stroke-width="1.4"/>
<line x1="388.12" y1="123.80" x2="388.12" y2="128.00" stroke="#000" stroke-width="1.4"/>
<line x1="388.12" y1="128.00" x2="388.12" y2="132.20" stroke="#000" stroke-width="1.4"/>
<line x1="388.12" y1="250.30" x2="388.12" y2="254.50" stroke="#000" stroke-width="1.4"/>
<line x1="388.12" y1="254.50" x2="388.12" y2="258.70" stroke="#000" stroke-width="1.4"/>
<line x1="388.12" y1="377.80" x2="388.12" y2="382.00" stroke="#000" stroke-width="1.4"/>
<line x1="388.12" y1="382.00" x2="388.12" y2="386.20" stroke="#000" stroke-width="1.4"/>
<line x1="388.12" y1="505.80" x2="388.12" y2="510.00" stroke="#000" stroke-width="1.4"/>
<line x1="408.94" y1="1.00" x2="408.94" y2="5.20" stroke="#000" stroke-width="1.4"/>
<line x1="408.94" y1="123.80" x2="408.94" y2="128.00" stroke="#000" stroke-width="1.4"/>
<line x1="408.94" y1="128.00" x2="408.94" y2="132.20" stroke="#000" stroke-width="1.4"/>
<line x1="408.94" y1="250.30" x2="408.94" y2="254.50" stroke="#000" stroke-width="1.4"/>
<line x1="408.94" y1="254.50" x2="408.94" y2="258.70" stroke="#000" stroke-width="1.4"/>
<line x1="408.94" y1="377.80" x2="408.94" y2="382.00" stroke="#000" stroke-width="1.4"/>
<line x1="408.94" y1="382.00" x2="408.94" y2="386.20" stroke="#000" stroke-width="1.4"/>
<line x1="408.94" y1="505.80" x2="408.94" y2="510.00" stroke="#000" stroke-width="1.4"/>
<line x1="429.76" y1="1.00" x2="429.76" y2="5.20" stroke="#000" stroke-width="1.4"/>
<line x1="429.76" y1="123.80" x2="429.76" y2="128.00" stroke="#000" stroke-width="1.4"/>
<line x1="429.76" y1="128.00" x2="429.76" y2="132.20" stroke="#000" stroke-width="1.4"/>
<line x1="429.76" y1="250.30" x2="429.76" y2="254.50" stroke="#000" stroke-width="1.4"/>
<line x1="429.76" y1="254.50" x2="429.76" y2="258.70" stroke="#000" stroke-width="1.4"/>
<line x1="429.76" y1="377.80" x2="429.76" y2="382.00" stroke="#000" stroke-width="1.4"/>
<line x1="429.76" y1="382.00" x2="429.76" y2="386.20" stroke="#000" stroke-width="1.4"/>
<line x1="429.76" y1="505.80" x2="429.76" y2="510.00" stroke="#000" stroke-width="1.4"/>
<line x1="450.58" y1="1.00" x2="450.58" y2="5.20" stroke="#000" stroke-width="1.4"/>
<line x1="450.58" y1="123.80" x2="450.58" y2="128.00" stroke="#000" stroke-width="1.4"/>
<line x1="450.58" y1="128.00" x2="450.58" y2="132.20" stroke="#000" stroke-width="1.4"/>
<line x1="450.58" y1="250.30" x2="450.58" y2="254.50" stroke="#000" stroke-width="1.4"/>
<line x1="450.58" y1="254.50" x2="450.58" y2="258.70" stroke="#000" stroke-width="1.4"/>
<line x1="450.58" y1="377.80" x2="450.58" y2="382.00" stroke="#000" stroke-width="1.4"/>
<line x1="450.58" y1="382.00" x2="450.58" y2="386.20" stroke="#000" stroke-width="1.4"/>
<line x1="450.58" y1="505.80" x2="450.58" y2="510.00" stroke="#000" stroke-width="1.4"/>
<line x1="471.40" y1="1.00" x2="471.40" y2="9.50" stroke="#000" stroke-width="1.4"/>
<line x1="471.40" y1="119.50" x2="471.40" y2="128.00" stroke="#000" stroke-width="1.4"/>
<line x1="471.40" y1="128.00" x2="471.40" y2="136.50" stroke="#000" stroke-width="1.4"/>
<line x1="471.40" y1="246.00" x2="471.40" y2="254.50" stroke="#000" stroke-width="1.4"/>
<line x1="471.40" y1="254.50" x2="471.40" y2="263.00" stroke="#000" stroke-width="1.4"/>
<line x1="471.40" y1="373.50" x2="471.40" y2="382.00" stroke="#000" stroke-width="1.4"/>
<line x1="471.40" y1="382.00" x2="471.40" y2="390.50" stroke="#000" stroke-width="1.4"/>
<line x1="471.40" y1="501.50" x2="471.40" y2="510.00" stroke="#000" stroke-width="1.4"/>
<line x1="492.22" y1="1.00" x2="492.22" y2="5.20" stroke="#000" stroke-width="1.4"/>
<line x1="492.22" y1="123.80" x2="492.22" y2="128.00" stroke="#000" stroke-width="1.4"/>
<line x1="492.22" y1="128.00" x2="492.22" y2="132.20" stroke="#000" stroke-width="1.4"/>
<line x1="492.22" y1="250.30" x2="492.22" y2="254.50" stroke="#000" stroke-width="1.4"/>
<line x1="492.22" y1="254.50" x2="492.22" y2="258.70" stroke="#000" stroke-width="1.4"/>
<line x1="492.22" y1="377.80" x2="492.22" y2="382.00" stroke="#000" stroke-width="1.4"/>
<line x1="492.22" y1="382.00" x2="492.22" y2="386.20" stroke="#000" stroke-width="1.4"/>
<line x1="492.22" y1="505.80" x2="492.22" y2="510.00" stroke="#000" stroke-width="1.4"/>
<line x1="513.04" y1="1.00" x2="513.04" y2="5.20" stroke="#000" stroke-width="1.4"/>
<line x1="513.04" y1="123.80" x2="513.04" y2="128.00" stroke="#000" stroke-width="1.4"/>
<line x1="513.04" y1="128.00" x2="513.04" y2="132.20" stroke="#000" stroke-width="1.4"/>
<line x1="513.04" y1="250.30" x2="513.04" y2="254.50" stroke="#000" stroke-width="1.4"/>
<line x1="513.04" y1="254.50" x2="513.04" y2="258.70" stroke="#000" stroke-width="1.4"/>
<line x1="513.04" y1="377.80" x2="513.04" y2="382.00" stroke="#000" stroke-width="1.4"/>
<line x1="513.04" y1="382.00" x2="513.04" y2="386.20" stroke="#000" stroke-width="1.4"/>
<line x1="513.04" y1="505.80" x2="513.04" y2="510.00" stroke="#000" stroke-width="1.4"/>
<line x1="533.86" y1="1.00" x2="533.86" y2="5.20" stroke="#000" stroke-width="1.4"/>
<line x1="533.86" y1="123.80" x2="533.86" y2="128.00" stroke="#000" stroke-width="1.4"/>
<line x1="533.86" y1="128.00" x2="533.86" y2="132.20" stroke="#000" stroke-width="1.4"/>
<line x1="533.86" y1="250.30" x2="533.86" y2="254.50" stroke="#000" stroke-width="1.4"/>
<line x1="533.86" y1="254.50" x2="533.86" y2="258.70" stroke="#000" stroke-width="1.4"/>
<line x1="533.86" y1="377.80" x2="533.86" y2="382.00" stroke="#000" stroke-width="1.4"/>
<line x1="533.86" y1="382.00" x2="533.86" y2="386.20" stroke="#000" stroke-width="1.4"/>
<line x1="533.86" y1="505.80" x2="533.86" y2="510.00" stroke="#000" stroke-width="1.4"/>
<line x1="55.00" y1="10.70" x2="59.20" y2="10.70" stroke="#000" stroke-width="1.4"/>
<line x1="545.80" y1="10.70" x2="550.00" y2="10.70" stroke="#000" stroke-width="1.4"/>
<line x1="55.00" y1="24.00" x2="63.50" y2="24.00" stroke="#000" stroke-width="1.4"/>
<line x1="541.50" y1="24.00" x2="550.00" y2="24.00" stroke="#000" stroke-width="1.4"/>
<line x1="55.00" y1="37.30" x2="59.20" y2="37.30" stroke="#000" stroke-width="1.4"/>
<line x1="545.80" y1="37.30" x2="550.00" y2="37.30" stroke="#000" stroke-width="1.4"/>
<line x1="55.00" y1="50.60" x2="59.20" y2="50.60" stroke="#000" stroke-width="1.4"/>
<line x1="545.80" y1="50.60" x2="550.00" y2="50.60" stroke="#000" stroke-width="1.4"/>
<line x1="55.00" y1="63.90" x2="59.20" y2="63.90" stroke="#000" stroke-width="1.4"/>
<line x1="545.80" y1="63.90" x2="550.00" y2="63.90" stroke="#000" stroke-width="1.4"/>
<line x1="55.00" y1="77.20" x2="63.50" y2="77.20" stroke="#000" stroke-width="1.4"/>
<line x1="541.50" y1="77.20" x2="550.00" y2="77.20" stroke="#000" stroke-width="1.4"/>
<line x1="55.00" y1="90.50" x2="59.20" y2="90.50" stroke="#000" stroke-width="1.4"/>
<line x1="545.80" y1="90.50" x2="550.00" y2="90.50" stroke="#000" stroke-width="1.4"/>
<line x1="55.00" y1="103.80" x2="59.20" y2="103.80" stroke="#000" stroke-width="1.4"/>
<line x1="545.80" y1="103.80" x2="550.00" y2="103.80" stroke="#000" stroke-width="1.4"/>
<line x1="55.00" y1="117.10" x2="59.20" y2="117.10" stroke="#000" stroke-width="1.4"/>
<line x1="545.80" y1="117.10" x2="550.00" y2="117.10" stroke="#000" stroke-width="1.4"/>
<line x1="55.00" y1="131.63" x2="59.20" y2="131.63" stroke="#000" stroke-width="1.4"/>
<line x1="545.80" y1="131.63" x2="550.00" y2="131.63" stroke="#000" stroke-width="1.4"/>
<line x1="55.00" y1="139.90" x2="63.50" y2="139.90" stroke="#000" stroke-width="1.4"/>
<line x1="541.50" y1="139.90" x2="550.00" y2="139.90" stroke="#000" stroke-width="1.4"/>
<line x1="55.00" y1="148.17" x2="59.20" y2="148.17" stroke="#000" stroke-width="1.4"/>
<line x1="545.80" y1="148.17" x2="550.00" y2="148.17" stroke="#000" stroke-width="1.4"/>
<line x1="55.00" y1="156.44" x2="59.20" y2="156.44" stroke="#000" stroke-width="1.4"/>
<line x1="545.80" y1="156.44" x2="550.00" y2="156.44" stroke="#000" stroke-width="1.4"/>
<line x1="55.00" y1="164.71" x2="59.20" y2="164.71" stroke="#000" stroke-width="1.4"/>
<line x1="545.80" y1="164.71" x2="550.00" y2="164.71" stroke="#000" stroke-width="1.4"/>
<line x1="55.00" y1="172.98" x2="59.20" y2="172.98" stroke="#000" stroke-width="1.4"/>
<line x1="545.80" y1="172.98" x2="550.00" y2="172.98" stroke="#000" stroke-width="1.4"/>
<line x1="55.00" y1="181.25" x2="63.50" y2="181.25" stroke="#000" stroke-width="1.4"/>
<line x1="541.50" y1="181.25" x2="550.00" y2="181.25" stroke="#000" stroke-width="1.4"/>
<line x1="55.00" y1="189.52" x2="59.20" y2="189.52" stroke="#000" stroke-width="1.4"/>
<line x1="545.80" y1="189.52" x2="550.00" y2="189.52" stroke="#000" stroke-width="1.4"/>
<line x1="55.00" y1="197.79" x2="59.20" y2="197.79" stroke="#000" stroke-width="1.4"/>
<line x1="545.80" y1="197.79" x2="550.00" y2="197.79" stroke="#000" stroke-width="1.4"/>
<line x1="55.00" y1="206.06" x2="59.20" y2="206.06" stroke="#000" stroke-width="1.4"/>
<line x1="545.80" y1="206.06" x2="550.00" y2="206.06" stroke="#000" stroke-width="1.4"/>
<line x1="55.00" y1="214.33" x2="59.20" y2="214.33" stroke="#000" stroke-width="1.4"/>
<line x1="545.80" y1="214.33" x2="550.00" y2="214.33" stroke="#000" stroke-width="1.4"/>
<line x1="55.00" y1="222.60" x2="63.50" y2="222.60" stroke="#000" stroke-width="1.4"/>
<line x1="541.50" y1="222.60" x2="550.00" y2="222.60" stroke="#000" stroke-width="1.4"/>
<line x1="55.00" y1="230.87" x2="59.20" y2="230.87" stroke="#000" stroke-width="1.4"/>
<line x1="545.80" y1="230.87" x2="550.00" y2="230.87" stroke="#000" stroke-width="1.4"/>
<line x1="55.00" y1="239.14" x2="59.20" y2="239.14" stroke="#000" stroke-width="1.4"/>
<line x1="545.80" y1="239.14" x2="550.00" y2="239.14" stroke="#000" stroke-width="1.4"/>
<line x1="55.00" y1="247.41" x2="59.20" y2="247.41" stroke="#000" stroke-width="1.4"/>
<line x1="545.80" y1="247.41" x2="550.00" y2="247.41" stroke="#000" stroke-width="1.4"/>
<line x1="55.00" y1="259.46" x2="59.20" y2="259.46" stroke="#000" stroke-width="1.4"/>
<line x1="545.80" y1="259.46" x2="550.00" y2="259.46" stroke="#000" stroke-width="1.4"/>
<line x1="55.00" y1="268.58" x2="59.20" y2="268.58" stroke="#000" stroke-width="1.4"/>
<line x1="545.80" y1="268.58" x2="550.00" y2="268.58" stroke="#000" stroke-width="1.4"/>
<line x1="55.00" y1="277.70" x2="63.50" y2="277.70" stroke="#000" stroke-width="1.4"/>
<line x1="541.50" y1="277.70" x2="550.00" y2="277.70" stroke="#000" stroke-width="1.4"/>
<line x1="55.00" y1="286.82" x2="59.20" y2="286.82" stroke="#000" stroke-width="1.4"/>
<line x1="545.80" y1="286.82" x2="550.00" y2="286.82" stroke="#000" stroke-width="1.4"/>
<line x1="55.00" y1="295.94" x2="59.20" y2="295.94" stroke="#000" stroke-width="1.4"/>
<line x1="545.80" y1="295.94" x2="550.00" y2="295.94" stroke="#000" stroke-width="1.4"/>
<line x1="55.00" y1="305.06" x2="59.20" y2="305.06" stroke="#000" stroke-width="1.4"/>
<line x1="545.80" y1="305.06" x2="550.00" y2="305.06" stroke="#000" stroke-width="1.4"/>
<line x1="55.00" y1="314.18" x2="59.20" y2="314.18" stroke="#000" stroke-width="1.4"/>
<line x1="545.80" y1="314.18" x2="550.00" y2="314.18" stroke="#000" stroke-width="1.4"/>
<line x1="55.00" y1="323.30" x2="63.50" y2="323.30" stroke="#000" stroke-width="1.4"/>
<line x1="541.50" y1="323.30" x2="550.00" y2="323.30" stroke="#000" stroke-width="1.4"/>
<line x1="55.00" y1="332.42" x2="59.20" y2="332.42" stroke="#000" stroke-width="1.4"/>
<line x1="545.80" y1="332.42" x2="550.00" y2="332.42" stroke="#000" stroke-width="1.4"/>
<line x1="55.00" y1="341.54" x2="59.20" y2="341.54" stroke="#000" stroke-width="1.4"/>
<line x1="545.80" y1="341.54" x2="550.00" y2="341.54" stroke="#000" stroke-width="1.4"/>
<line x1="55.00" y1="350.66" x2="59.20" y2="350.66" stroke="#000" stroke-width="1.4"/>
<line x1="545.80" y1="350.66" x2="550.00" y2="350.66" stroke="#000" stroke-width="1.4"/>
<line x1="55.00" y1="359.78" x2="59.20" y2="359.78" stroke="#000" stroke-width="1.4"/>
<line x1="545.80" y1="359.78" x2="550.00" y2="359.78" stroke="#000" stroke-width="1.4"/>
<line x1="55.00" y1="368.90" x2="63.50" y2="368.90" stroke="#000" stroke-width="1.4"/>
<line x1="541.50" y1="368.90" x2="550.00" y2="368.90" stroke="#000" stroke-width="1.4"/>
<line x1="55.00" y1="378.02" x2="59.20" y2="378.02" stroke="#000" stroke-width="1.4"/>
<line x1="545.80" y1="378.02" x2="550.00" y2="378.02" stroke="#000" stroke-width="1.4"/>
<line x1="55.00" y1="395.25" x2="59.20" y2="395.25" stroke="#000" stroke-width="1.4"/>
<line x1="545.80" y1="395.25" x2="550.00" y2="395.25" stroke="#000" stroke-width="1.4"/>
<line x1="55.00" y1="416.00" x2="63.50" y2="416.00" stroke="#000" stroke-width="1.4"/>
<line x1="541.50" y1="416.00" x2="550.00" y2="416.00" stroke="#000" stroke-width="1.4"/>
<line x1="55.00" y1="436.75" x2="59.20" y2="436.75" stroke="#000" stroke-width="1.4"/>
<line x1="545.80" y1="436.75" x2="550.00" y2="436.75" stroke="#000" stroke-width="1.4"/>
<line x1="55.00" y1="457.50" x2="59.20" y2="457.50" stroke="#000" stroke-width="1.4"/>
<line x1="545.80" y1="457.50" x2="550.00" y2="457.50" stroke="#000" stroke-width="1.4"/>
<line x1="55.00" y1="478.25" x2="59.20" y2="478.25" stroke="#000" stroke-width="1.4"/>
<line x1="545.80" y1="478.25" x2="550.00" y2="478.25" stroke="#000" stroke-width="1.4"/>
<line x1="55.00" y1="499.00" x2="63.50" y2="499.00" stroke="#000" stroke-width="1.4"/>
<line x1="541.50" y1="499.00" x2="550.00" y2="499.00" stroke="#000" stroke-width="1.4"/>

</g>
<g id="inktext" filter="url(#frt)" text-rendering="geometricPrecision" stroke="#000" stroke-width="0.12" stroke-linejoin="round">
<text x="50.6" y="29.5" font-size="18.3" text-anchor="end"  >60</text>
<text x="50.6" y="82.7" font-size="18.3" text-anchor="end"  >40</text>
<text x="50.6" y="145.4" font-size="18.3" text-anchor="end"  >25</text>
<text x="50.6" y="186.8" font-size="18.3" text-anchor="end"  >20</text>
<text x="50.6" y="228.1" font-size="18.3" text-anchor="end"  >15</text>
<text x="50.6" y="283.2" font-size="18.3" text-anchor="end"  >12.5</text>
<text x="50.6" y="328.9" font-size="18.3" text-anchor="end"  >10.0</text>
<text x="50.6" y="374.5" font-size="18.3" text-anchor="end"  >7.5</text>
<text x="50.6" y="421.5" font-size="18.3" text-anchor="end"  >1.4</text>
<text x="50.6" y="504.5" font-size="18.3" text-anchor="end"  >1.2</text>
<text x="55.0" y="525.5" font-size="18.3" text-anchor="middle"  >0.0</text>
<text x="159.1" y="525.5" font-size="18.3" text-anchor="middle"  >0.1</text>
<text x="263.2" y="525.5" font-size="18.3" text-anchor="middle"  >0.2</text>
<text x="367.29999999999995" y="525.5" font-size="18.3" text-anchor="middle"  >0.3</text>
<text x="471.4" y="525.5" font-size="18.3" text-anchor="middle"  >0.4</text>
<text x="65.0" y="156.4" font-size="21.5" text-anchor="start"  textLength="15.4" lengthAdjust="spacingAndGlyphs">B</text>
<text font-size="24" font-style="italic" stroke="none" text-anchor="middle" transform="translate(24.5,65) rotate(-90)">μ</text>
<text font-size="24" font-style="italic" stroke="none" text-anchor="middle" transform="translate(25.0,191.5) rotate(-90)">μ</text>
<text font-size="24" font-style="italic" stroke="none" text-anchor="middle" transform="translate(11.5,319) rotate(-90)">μ</text>
<text font-size="24" font-style="italic" stroke="none" text-anchor="middle" transform="translate(19.5,446) rotate(-90)">μ</text>
<text x="278.6" y="550.2" font-size="24" font-style="italic">t</text>
<text x="294.6" y="550.6" font-size="24.5">[</text>
<text x="299.3" y="550.4" font-size="24" font-style="italic">θ</text>
<text x="311.2" y="554.4" font-size="16">E</text>
<text x="317.6" y="550.6" font-size="24.5">]</text>

</g>
</svg>
</body></html>
